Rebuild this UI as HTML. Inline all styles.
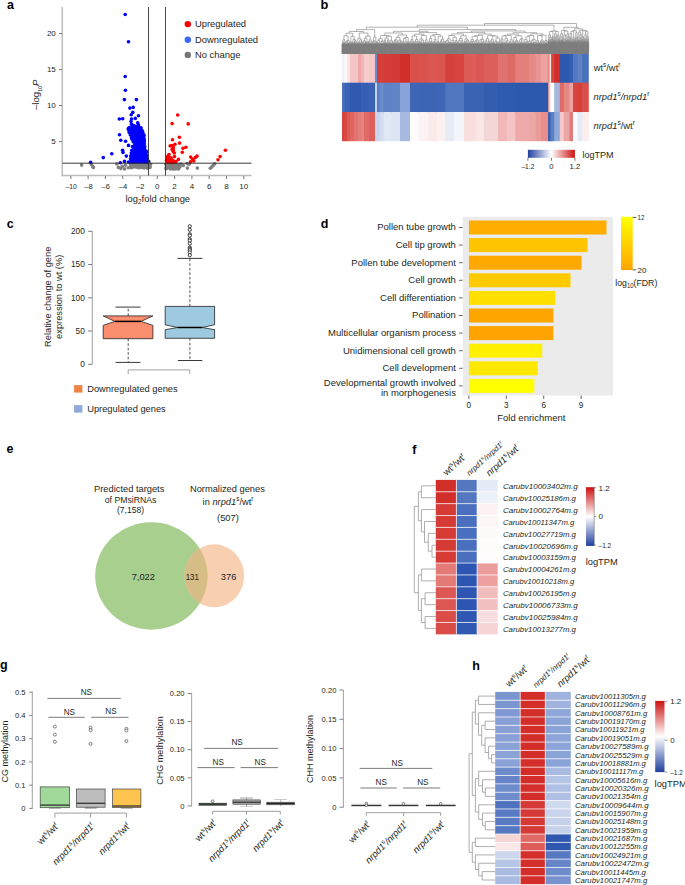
<!DOCTYPE html>
<html><head><meta charset="utf-8"><style>
html,body{margin:0;padding:0;background:#fff;}
body{width:685px;height:885px;overflow:hidden;}
svg{display:block;font-family:"Liberation Sans",sans-serif;}
</style></head><body>
<svg width="685" height="885" viewBox="0 0 685 885" fill="#231f20">
<text x="7" y="9.2" font-size="12.5" font-weight="bold" fill="#000">a</text>
<line x1="62.3" y1="7" x2="62.3" y2="176.3" stroke="#bdbdbd" stroke-width="1.5"/>
<line x1="61.6" y1="175.6" x2="251.5" y2="175.6" stroke="#bdbdbd" stroke-width="1.5"/>
<line x1="59" y1="141.6" x2="62" y2="141.6" stroke="#555" stroke-width="0.8"/>
<text x="55.8" y="144.4" font-size="8.0" text-anchor="end">5</text>
<line x1="59" y1="105.6" x2="62" y2="105.6" stroke="#555" stroke-width="0.8"/>
<text x="55.8" y="108.4" font-size="8.0" text-anchor="end">10</text>
<line x1="59" y1="69.6" x2="62" y2="69.6" stroke="#555" stroke-width="0.8"/>
<text x="55.8" y="72.4" font-size="8.0" text-anchor="end">15</text>
<line x1="59" y1="33.6" x2="62" y2="33.6" stroke="#555" stroke-width="0.8"/>
<text x="55.8" y="36.4" font-size="8.0" text-anchor="end">20</text>
<line x1="70.8" y1="176" x2="70.8" y2="179" stroke="#555" stroke-width="0.8"/>
<text x="71.1" y="189" font-size="8.0" text-anchor="middle" textLength="11.3" lengthAdjust="spacingAndGlyphs">–10</text>
<line x1="88.1" y1="176" x2="88.1" y2="179" stroke="#555" stroke-width="0.8"/>
<text x="88.4" y="189" font-size="8.0" text-anchor="middle" textLength="8.4" lengthAdjust="spacingAndGlyphs">–8</text>
<line x1="105.4" y1="176" x2="105.4" y2="179" stroke="#555" stroke-width="0.8"/>
<text x="105.7" y="189" font-size="8.0" text-anchor="middle" textLength="8.4" lengthAdjust="spacingAndGlyphs">–6</text>
<line x1="122.7" y1="176" x2="122.7" y2="179" stroke="#555" stroke-width="0.8"/>
<text x="123" y="189" font-size="8.0" text-anchor="middle" textLength="8.4" lengthAdjust="spacingAndGlyphs">–4</text>
<line x1="140" y1="176" x2="140" y2="179" stroke="#555" stroke-width="0.8"/>
<text x="140.3" y="189" font-size="8.0" text-anchor="middle" textLength="8.4" lengthAdjust="spacingAndGlyphs">–2</text>
<line x1="157.3" y1="176" x2="157.3" y2="179" stroke="#555" stroke-width="0.8"/>
<text x="157.3" y="189" font-size="8.0" text-anchor="middle">0</text>
<line x1="174.6" y1="176" x2="174.6" y2="179" stroke="#555" stroke-width="0.8"/>
<text x="174.6" y="189" font-size="8.0" text-anchor="middle">2</text>
<line x1="191.9" y1="176" x2="191.9" y2="179" stroke="#555" stroke-width="0.8"/>
<text x="191.9" y="189" font-size="8.0" text-anchor="middle">4</text>
<line x1="209.2" y1="176" x2="209.2" y2="179" stroke="#555" stroke-width="0.8"/>
<text x="209.2" y="189" font-size="8.0" text-anchor="middle">6</text>
<line x1="226.5" y1="176" x2="226.5" y2="179" stroke="#555" stroke-width="0.8"/>
<text x="226.5" y="189" font-size="8.0" text-anchor="middle">8</text>
<line x1="243.8" y1="176" x2="243.8" y2="179" stroke="#555" stroke-width="0.8"/>
<text x="243.8" y="189" font-size="8.0" text-anchor="middle">10</text>
<path d="M130,163.3 L150.5,163.3 L151,165.5 L150.5,168.2 L131,168.4 L129.5,167 Z" fill="#7f7f7f" stroke="none" stroke-width="1"/>
<path d="M165.3,163.3 L180.5,163.3 L181,167.5 L180.2,169.3 L166,169.5 L165,167 Z" fill="#7f7f7f" stroke="none" stroke-width="1"/>
<circle cx="81.6" cy="165.1" r="1.8" fill="#7f7f7f"/>
<circle cx="91.4" cy="164.5" r="1.8" fill="#7f7f7f"/>
<circle cx="92.7" cy="166.4" r="1.8" fill="#7f7f7f"/>
<circle cx="93.4" cy="167.6" r="1.8" fill="#7f7f7f"/>
<circle cx="116.8" cy="164" r="1.8" fill="#7f7f7f"/>
<circle cx="118.4" cy="167.4" r="1.8" fill="#7f7f7f"/>
<circle cx="122.2" cy="166.4" r="1.8" fill="#7f7f7f"/>
<circle cx="125.4" cy="165.2" r="1.8" fill="#7f7f7f"/>
<circle cx="128.2" cy="167.8" r="1.8" fill="#7f7f7f"/>
<circle cx="120.8" cy="168.6" r="1.8" fill="#7f7f7f"/>
<circle cx="124.5" cy="168.9" r="1.8" fill="#7f7f7f"/>
<circle cx="187.1" cy="163.6" r="1.8" fill="#7f7f7f"/>
<circle cx="189.1" cy="164.3" r="1.8" fill="#7f7f7f"/>
<circle cx="187.4" cy="168.1" r="1.8" fill="#7f7f7f"/>
<circle cx="197.3" cy="168.1" r="1.8" fill="#7f7f7f"/>
<circle cx="210.3" cy="168.3" r="1.8" fill="#7f7f7f"/>
<circle cx="211.7" cy="166.9" r="1.8" fill="#7f7f7f"/>
<circle cx="213.2" cy="165.4" r="1.8" fill="#7f7f7f"/>
<circle cx="214.6" cy="163.9" r="1.8" fill="#7f7f7f"/>
<circle cx="183.3" cy="165.5" r="1.8" fill="#7f7f7f"/>
<circle cx="130.5" cy="164.5" r="1.8" fill="#7f7f7f"/>
<circle cx="150.5" cy="164.2" r="1.8" fill="#7f7f7f"/>
<circle cx="150" cy="167.5" r="1.8" fill="#7f7f7f"/>
<circle cx="131.2" cy="167.8" r="1.8" fill="#7f7f7f"/>
<circle cx="166" cy="168.8" r="1.8" fill="#7f7f7f"/>
<circle cx="181" cy="164" r="1.8" fill="#7f7f7f"/>
<circle cx="165.8" cy="164.3" r="1.8" fill="#7f7f7f"/>
<circle cx="135.14" cy="166.21" r="1.8" fill="#7f7f7f"/>
<circle cx="137.71" cy="166.43" r="1.8" fill="#7f7f7f"/>
<circle cx="142.7" cy="164.44" r="1.8" fill="#7f7f7f"/>
<circle cx="130.76" cy="167.3" r="1.8" fill="#7f7f7f"/>
<circle cx="135.56" cy="165.07" r="1.8" fill="#7f7f7f"/>
<circle cx="149.92" cy="165.94" r="1.8" fill="#7f7f7f"/>
<circle cx="146.81" cy="165.96" r="1.8" fill="#7f7f7f"/>
<circle cx="142.96" cy="164.76" r="1.8" fill="#7f7f7f"/>
<circle cx="142.88" cy="167.41" r="1.8" fill="#7f7f7f"/>
<circle cx="140.7" cy="166.94" r="1.8" fill="#7f7f7f"/>
<circle cx="143.59" cy="164.44" r="1.8" fill="#7f7f7f"/>
<circle cx="145.29" cy="166.39" r="1.8" fill="#7f7f7f"/>
<circle cx="136.37" cy="164.31" r="1.8" fill="#7f7f7f"/>
<circle cx="147.38" cy="165.95" r="1.8" fill="#7f7f7f"/>
<circle cx="144.52" cy="167.45" r="1.8" fill="#7f7f7f"/>
<circle cx="144.43" cy="167.61" r="1.8" fill="#7f7f7f"/>
<circle cx="138.2" cy="167.16" r="1.8" fill="#7f7f7f"/>
<circle cx="139.17" cy="167.66" r="1.8" fill="#7f7f7f"/>
<circle cx="147.64" cy="164.56" r="1.8" fill="#7f7f7f"/>
<circle cx="133.15" cy="165" r="1.8" fill="#7f7f7f"/>
<circle cx="149.33" cy="165.81" r="1.8" fill="#7f7f7f"/>
<circle cx="142.72" cy="165.31" r="1.8" fill="#7f7f7f"/>
<circle cx="140.39" cy="165.63" r="1.8" fill="#7f7f7f"/>
<circle cx="137.34" cy="166.36" r="1.8" fill="#7f7f7f"/>
<circle cx="141.89" cy="167.55" r="1.8" fill="#7f7f7f"/>
<circle cx="143.8" cy="167.64" r="1.8" fill="#7f7f7f"/>
<circle cx="147.2" cy="167.87" r="1.8" fill="#7f7f7f"/>
<circle cx="143.59" cy="164.8" r="1.8" fill="#7f7f7f"/>
<circle cx="147.28" cy="167.77" r="1.8" fill="#7f7f7f"/>
<circle cx="148.14" cy="166.31" r="1.8" fill="#7f7f7f"/>
<circle cx="144.42" cy="164.98" r="1.8" fill="#7f7f7f"/>
<circle cx="146.72" cy="166.32" r="1.8" fill="#7f7f7f"/>
<circle cx="136.06" cy="164.43" r="1.8" fill="#7f7f7f"/>
<circle cx="147.15" cy="167.86" r="1.8" fill="#7f7f7f"/>
<circle cx="132.23" cy="167.16" r="1.8" fill="#7f7f7f"/>
<circle cx="138.5" cy="164.76" r="1.8" fill="#7f7f7f"/>
<circle cx="136.23" cy="167.04" r="1.8" fill="#7f7f7f"/>
<circle cx="147.52" cy="164.36" r="1.8" fill="#7f7f7f"/>
<circle cx="142.48" cy="164.37" r="1.8" fill="#7f7f7f"/>
<circle cx="144.51" cy="165.42" r="1.8" fill="#7f7f7f"/>
<circle cx="178.6" cy="169.01" r="1.8" fill="#7f7f7f"/>
<circle cx="173.23" cy="169.09" r="1.8" fill="#7f7f7f"/>
<circle cx="170.43" cy="164.58" r="1.8" fill="#7f7f7f"/>
<circle cx="174.58" cy="164.35" r="1.8" fill="#7f7f7f"/>
<circle cx="168.82" cy="166.2" r="1.8" fill="#7f7f7f"/>
<circle cx="174.73" cy="164.97" r="1.8" fill="#7f7f7f"/>
<circle cx="166.61" cy="168.45" r="1.8" fill="#7f7f7f"/>
<circle cx="170.49" cy="168.9" r="1.8" fill="#7f7f7f"/>
<circle cx="178.82" cy="166.05" r="1.8" fill="#7f7f7f"/>
<circle cx="172.58" cy="166.75" r="1.8" fill="#7f7f7f"/>
<circle cx="175.21" cy="167.12" r="1.8" fill="#7f7f7f"/>
<circle cx="174" cy="167.24" r="1.8" fill="#7f7f7f"/>
<circle cx="179.45" cy="166.68" r="1.8" fill="#7f7f7f"/>
<circle cx="172.17" cy="167.73" r="1.8" fill="#7f7f7f"/>
<circle cx="169.4" cy="165.68" r="1.8" fill="#7f7f7f"/>
<circle cx="179.98" cy="166.75" r="1.8" fill="#7f7f7f"/>
<circle cx="173.84" cy="164.26" r="1.8" fill="#7f7f7f"/>
<circle cx="171.94" cy="167.04" r="1.8" fill="#7f7f7f"/>
<circle cx="166.29" cy="167.22" r="1.8" fill="#7f7f7f"/>
<circle cx="175.04" cy="164.49" r="1.8" fill="#7f7f7f"/>
<circle cx="174.97" cy="166.48" r="1.8" fill="#7f7f7f"/>
<circle cx="175.71" cy="165.93" r="1.8" fill="#7f7f7f"/>
<circle cx="176.11" cy="167.82" r="1.8" fill="#7f7f7f"/>
<circle cx="166.32" cy="164.5" r="1.8" fill="#7f7f7f"/>
<circle cx="175.67" cy="168.92" r="1.8" fill="#7f7f7f"/>
<circle cx="177.7" cy="115" r="1.8" fill="#ff0000"/>
<circle cx="172.1" cy="123.6" r="1.8" fill="#ff0000"/>
<circle cx="188.2" cy="123.9" r="1.8" fill="#ff0000"/>
<circle cx="179.4" cy="137.2" r="1.8" fill="#ff0000"/>
<circle cx="172.5" cy="139.7" r="1.8" fill="#ff0000"/>
<circle cx="179.6" cy="143.1" r="1.8" fill="#ff0000"/>
<circle cx="175" cy="144.3" r="1.8" fill="#ff0000"/>
<circle cx="170.2" cy="145.9" r="1.8" fill="#ff0000"/>
<circle cx="185.9" cy="147.2" r="1.8" fill="#ff0000"/>
<circle cx="183" cy="148.2" r="1.8" fill="#ff0000"/>
<circle cx="173.3" cy="147.4" r="1.8" fill="#ff0000"/>
<circle cx="172.1" cy="149.5" r="1.8" fill="#ff0000"/>
<circle cx="173.1" cy="151.5" r="1.8" fill="#ff0000"/>
<circle cx="174.3" cy="153" r="1.8" fill="#ff0000"/>
<circle cx="182.3" cy="152.2" r="1.8" fill="#ff0000"/>
<circle cx="169" cy="154.6" r="1.8" fill="#ff0000"/>
<circle cx="174.5" cy="156.6" r="1.8" fill="#ff0000"/>
<circle cx="178.4" cy="159.4" r="1.8" fill="#ff0000"/>
<circle cx="190.7" cy="157.1" r="1.8" fill="#ff0000"/>
<circle cx="197" cy="156.1" r="1.8" fill="#ff0000"/>
<circle cx="195.3" cy="157.6" r="1.8" fill="#ff0000"/>
<circle cx="192.7" cy="159.2" r="1.8" fill="#ff0000"/>
<circle cx="193.7" cy="161" r="1.8" fill="#ff0000"/>
<circle cx="190.5" cy="161.7" r="1.8" fill="#ff0000"/>
<circle cx="225.4" cy="150.2" r="1.8" fill="#ff0000"/>
<circle cx="220.1" cy="156.6" r="1.8" fill="#ff0000"/>
<circle cx="218" cy="159.7" r="1.8" fill="#ff0000"/>
<circle cx="167" cy="157" r="1.8" fill="#ff0000"/>
<circle cx="169.5" cy="157.5" r="1.8" fill="#ff0000"/>
<circle cx="167" cy="159.5" r="1.8" fill="#ff0000"/>
<circle cx="169" cy="160" r="1.8" fill="#ff0000"/>
<circle cx="171.5" cy="159.5" r="1.8" fill="#ff0000"/>
<circle cx="173" cy="160.5" r="1.8" fill="#ff0000"/>
<circle cx="167.5" cy="162" r="1.8" fill="#ff0000"/>
<circle cx="170" cy="162.5" r="1.8" fill="#ff0000"/>
<circle cx="172.5" cy="162.5" r="1.8" fill="#ff0000"/>
<circle cx="175" cy="162" r="1.8" fill="#ff0000"/>
<circle cx="166.5" cy="160.5" r="1.8" fill="#ff0000"/>
<circle cx="171" cy="157.8" r="1.8" fill="#ff0000"/>
<circle cx="176" cy="161.5" r="1.8" fill="#ff0000"/>
<circle cx="168.2" cy="155.8" r="1.8" fill="#ff0000"/>
<circle cx="172.3" cy="145.5" r="1.8" fill="#ff0000"/>
<circle cx="173.5" cy="150" r="1.8" fill="#ff0000"/>
<path d="M128,127 L133,124.8 L139,125.5 L141.6,128.5 L144,133 L145.2,137.4 L145,142 L145.2,146 L146.4,150.9 L147.2,154.3 L148.1,158.6 L149.3,162 L149.4,163.4 L129.9,163.4 L129.9,158.6 L130.8,154.3 L131.2,150.9 L132.5,148.4 L133.6,145.8 L132.5,141.6 L130.8,137.4 L129.5,133.1 L128.2,130.6 Z" fill="#0000ff" stroke="none" stroke-width="1"/>
<circle cx="125.2" cy="14.5" r="1.8" fill="#0000ff"/>
<circle cx="128.5" cy="41.7" r="1.8" fill="#0000ff"/>
<circle cx="125.2" cy="76.5" r="1.8" fill="#0000ff"/>
<circle cx="125.4" cy="90.2" r="1.8" fill="#0000ff"/>
<circle cx="124.4" cy="99.6" r="1.8" fill="#0000ff"/>
<circle cx="136.4" cy="99.6" r="1.8" fill="#0000ff"/>
<circle cx="129.9" cy="108.1" r="1.8" fill="#0000ff"/>
<circle cx="133.2" cy="107.4" r="1.8" fill="#0000ff"/>
<circle cx="132.8" cy="112.4" r="1.8" fill="#0000ff"/>
<circle cx="131.2" cy="114.7" r="1.8" fill="#0000ff"/>
<circle cx="138.5" cy="115.8" r="1.8" fill="#0000ff"/>
<circle cx="119.3" cy="119" r="1.8" fill="#0000ff"/>
<circle cx="122.7" cy="118.7" r="1.8" fill="#0000ff"/>
<circle cx="131.5" cy="119.1" r="1.8" fill="#0000ff"/>
<circle cx="135.3" cy="118.4" r="1.8" fill="#0000ff"/>
<circle cx="131" cy="121.6" r="1.8" fill="#0000ff"/>
<circle cx="137.7" cy="122.7" r="1.8" fill="#0000ff"/>
<circle cx="138.5" cy="124.9" r="1.8" fill="#0000ff"/>
<circle cx="131.5" cy="124.2" r="1.8" fill="#0000ff"/>
<circle cx="129.3" cy="127.5" r="1.8" fill="#0000ff"/>
<circle cx="128.2" cy="128.9" r="1.8" fill="#0000ff"/>
<circle cx="119.5" cy="134.8" r="1.8" fill="#0000ff"/>
<circle cx="120.8" cy="140.3" r="1.8" fill="#0000ff"/>
<circle cx="125.6" cy="141.3" r="1.8" fill="#0000ff"/>
<circle cx="128.5" cy="145.4" r="1.8" fill="#0000ff"/>
<circle cx="122.6" cy="150.2" r="1.8" fill="#0000ff"/>
<circle cx="123" cy="152.4" r="1.8" fill="#0000ff"/>
<circle cx="111.8" cy="153.8" r="1.8" fill="#0000ff"/>
<circle cx="103.3" cy="157.6" r="1.8" fill="#0000ff"/>
<circle cx="126.3" cy="156.1" r="1.8" fill="#0000ff"/>
<circle cx="124.5" cy="161.4" r="1.8" fill="#0000ff"/>
<circle cx="120.3" cy="162.8" r="1.8" fill="#0000ff"/>
<circle cx="128.5" cy="162" r="1.8" fill="#0000ff"/>
<circle cx="90.6" cy="162.3" r="1.8" fill="#0000ff"/>
<circle cx="143.3" cy="136.8" r="1.8" fill="#0000ff"/>
<circle cx="141" cy="127.8" r="1.8" fill="#0000ff"/>
<circle cx="133.5" cy="125.5" r="1.8" fill="#0000ff"/>
<circle cx="130.2" cy="128.8" r="1.8" fill="#0000ff"/>
<circle cx="146.8" cy="152" r="1.8" fill="#0000ff"/>
<circle cx="132.5" cy="146.5" r="1.8" fill="#0000ff"/>
<circle cx="129.39" cy="127.85" r="1.8" fill="#0000ff"/>
<circle cx="131.99" cy="126.92" r="1.8" fill="#0000ff"/>
<circle cx="134.4" cy="126.42" r="1.8" fill="#0000ff"/>
<circle cx="136.14" cy="126.22" r="1.8" fill="#0000ff"/>
<circle cx="140.06" cy="128.15" r="1.8" fill="#0000ff"/>
<circle cx="141.94" cy="130.2" r="1.8" fill="#0000ff"/>
<circle cx="142.76" cy="132.06" r="1.8" fill="#0000ff"/>
<circle cx="143.56" cy="134.61" r="1.8" fill="#0000ff"/>
<circle cx="144.11" cy="135.87" r="1.8" fill="#0000ff"/>
<circle cx="144.05" cy="138.73" r="1.8" fill="#0000ff"/>
<circle cx="144.38" cy="140.92" r="1.8" fill="#0000ff"/>
<circle cx="144.34" cy="143.66" r="1.8" fill="#0000ff"/>
<circle cx="144.7" cy="146.53" r="1.8" fill="#0000ff"/>
<circle cx="144.5" cy="147.76" r="1.8" fill="#0000ff"/>
<circle cx="145.85" cy="150.74" r="1.8" fill="#0000ff"/>
<circle cx="146.72" cy="155.27" r="1.8" fill="#0000ff"/>
<circle cx="147.38" cy="157.81" r="1.8" fill="#0000ff"/>
<circle cx="148.64" cy="161.3" r="1.8" fill="#0000ff"/>
<circle cx="130.5" cy="161.73" r="1.8" fill="#0000ff"/>
<circle cx="130.6" cy="158.77" r="1.8" fill="#0000ff"/>
<circle cx="130.77" cy="155.91" r="1.8" fill="#0000ff"/>
<circle cx="131.33" cy="153.07" r="1.8" fill="#0000ff"/>
<circle cx="131.77" cy="150.25" r="1.8" fill="#0000ff"/>
<circle cx="133.64" cy="147.3" r="1.8" fill="#0000ff"/>
<circle cx="134.8" cy="145.35" r="1.8" fill="#0000ff"/>
<circle cx="133.16" cy="141.68" r="1.8" fill="#0000ff"/>
<circle cx="132.12" cy="139.34" r="1.8" fill="#0000ff"/>
<circle cx="131.46" cy="137.83" r="1.8" fill="#0000ff"/>
<circle cx="130.34" cy="135" r="1.8" fill="#0000ff"/>
<circle cx="129.23" cy="132.39" r="1.8" fill="#0000ff"/>
<circle cx="128.91" cy="130.46" r="1.8" fill="#0000ff"/>
<line x1="62.4" y1="163.2" x2="251.5" y2="163.2" stroke="#222" stroke-width="0.9"/>
<line x1="148.5" y1="7" x2="148.5" y2="175.6" stroke="#333" stroke-width="0.9"/>
<line x1="165.5" y1="7" x2="165.5" y2="175.6" stroke="#333" stroke-width="0.9"/>
<circle cx="187.8" cy="24.1" r="3.2" fill="#ff0000"/>
<text x="195" y="27.4" font-size="9.4">Upregulated</text>
<circle cx="187.8" cy="39.7" r="3.2" fill="#3a66ff"/>
<text x="195" y="43" font-size="9.4">Downregulated</text>
<circle cx="187.8" cy="54.9" r="3.2" fill="#777"/>
<text x="195" y="58.2" font-size="9.4">No change</text>
<text x="39.3" y="94.8" font-size="9.6" text-anchor="middle" transform="rotate(-90 39.3 94.8)"><tspan>–log</tspan><tspan dy="2.4" font-size="5.28">10</tspan><tspan dy="-2.4" font-style="italic">P</tspan></text>
<text x="157.8" y="201.5" font-size="9.4" text-anchor="middle"><tspan>log</tspan><tspan dy="2.35" font-size="6.39">2</tspan><tspan dy="-2.35">fold change</tspan></text>
<text x="320.6" y="9.2" font-size="12.8" font-weight="bold" fill="#000">b</text>
<rect x="342" y="53.8" width="3.3" height="29.5" fill="#eef2fa"/>
<rect x="342" y="82.7" width="3.3" height="29.9" fill="#4a6fbb"/>
<rect x="342" y="112" width="3.3" height="29.2" fill="#d8443f"/>
<rect x="344.5" y="53.8" width="3.3" height="29.5" fill="#fbf9fa"/>
<rect x="344.5" y="82.7" width="3.3" height="29.9" fill="#3b63b5"/>
<rect x="344.5" y="112" width="3.3" height="29.2" fill="#d94a45"/>
<rect x="347" y="53.8" width="3.8" height="29.5" fill="#f9e3e3"/>
<rect x="347" y="82.7" width="3.8" height="29.9" fill="#3a62b4"/>
<rect x="347" y="112" width="3.8" height="29.2" fill="#dd5a55"/>
<rect x="350" y="53.8" width="4.8" height="29.5" fill="#f4c3c3"/>
<rect x="350" y="82.7" width="4.8" height="29.9" fill="#2f5aae"/>
<rect x="350" y="112" width="4.8" height="29.2" fill="#e06661"/>
<rect x="354" y="53.8" width="4.8" height="29.5" fill="#f3c6c6"/>
<rect x="354" y="82.7" width="4.8" height="29.9" fill="#2f5aae"/>
<rect x="354" y="112" width="4.8" height="29.2" fill="#e3736e"/>
<rect x="358" y="53.8" width="3.8" height="29.5" fill="#eea7a7"/>
<rect x="358" y="82.7" width="3.8" height="29.9" fill="#2f59ae"/>
<rect x="358" y="112" width="3.8" height="29.2" fill="#e57d78"/>
<rect x="361" y="53.8" width="3.8" height="29.5" fill="#f1b6b6"/>
<rect x="361" y="82.7" width="3.8" height="29.9" fill="#3560b2"/>
<rect x="361" y="112" width="3.8" height="29.2" fill="#e68580"/>
<rect x="364" y="53.8" width="5.8" height="29.5" fill="#f6cdcd"/>
<rect x="364" y="82.7" width="5.8" height="29.9" fill="#3560b2"/>
<rect x="364" y="112" width="5.8" height="29.2" fill="#e06a66"/>
<rect x="369" y="53.8" width="6.8" height="29.5" fill="#f4c8c8"/>
<rect x="369" y="82.7" width="6.8" height="29.9" fill="#3a62b4"/>
<rect x="369" y="112" width="6.8" height="29.2" fill="#dd5e5a"/>
<rect x="375" y="53.8" width="2.8" height="29.5" fill="#6a8cca"/>
<rect x="375" y="82.7" width="2.8" height="29.9" fill="#c5d1ec"/>
<rect x="375" y="112" width="2.8" height="29.2" fill="#c9d4ed"/>
<rect x="377" y="53.8" width="3.5" height="29.5" fill="#d63c37"/>
<rect x="377" y="82.7" width="3.5" height="29.9" fill="#5c7fc4"/>
<rect x="377" y="112" width="3.5" height="29.2" fill="#c8d3ec"/>
<rect x="379.7" y="53.8" width="4.7" height="29.5" fill="#d5403b"/>
<rect x="379.7" y="82.7" width="4.7" height="29.9" fill="#6a8bca"/>
<rect x="379.7" y="112" width="4.7" height="29.2" fill="#d4ddf0"/>
<rect x="383.6" y="53.8" width="8.7" height="29.5" fill="#d63c37"/>
<rect x="383.6" y="82.7" width="8.7" height="29.9" fill="#5f81c5"/>
<rect x="383.6" y="112" width="8.7" height="29.2" fill="#e0e7f5"/>
<rect x="391.5" y="53.8" width="9.3" height="29.5" fill="#d43a35"/>
<rect x="391.5" y="82.7" width="9.3" height="29.9" fill="#6184c6"/>
<rect x="391.5" y="112" width="9.3" height="29.2" fill="#dde4f3"/>
<rect x="400" y="53.8" width="10.8" height="29.5" fill="#d32f2a"/>
<rect x="400" y="82.7" width="10.8" height="29.9" fill="#8aa3d7"/>
<rect x="400" y="112" width="10.8" height="29.2" fill="#a6b9df"/>
<rect x="410" y="53.8" width="9.1" height="29.5" fill="#d9504b"/>
<rect x="410" y="82.7" width="9.1" height="29.9" fill="#3f66b6"/>
<rect x="410" y="112" width="9.1" height="29.2" fill="#fdfcfc"/>
<rect x="418.3" y="53.8" width="11" height="29.5" fill="#da524e"/>
<rect x="418.3" y="82.7" width="11" height="29.9" fill="#3d65b5"/>
<rect x="418.3" y="112" width="11" height="29.2" fill="#fcf4f4"/>
<rect x="428.5" y="53.8" width="8.9" height="29.5" fill="#db5753"/>
<rect x="428.5" y="82.7" width="8.9" height="29.9" fill="#3d65b5"/>
<rect x="428.5" y="112" width="8.9" height="29.2" fill="#fbeaea"/>
<rect x="436.6" y="53.8" width="9.5" height="29.5" fill="#da5450"/>
<rect x="436.6" y="82.7" width="9.5" height="29.9" fill="#3f66b6"/>
<rect x="436.6" y="112" width="9.5" height="29.2" fill="#fcf1f1"/>
<rect x="445.3" y="53.8" width="9.4" height="29.5" fill="#d6403b"/>
<rect x="445.3" y="82.7" width="9.4" height="29.9" fill="#5077c0"/>
<rect x="445.3" y="112" width="9.4" height="29.2" fill="#e6ebf6"/>
<rect x="453.9" y="53.8" width="10.9" height="29.5" fill="#d74440"/>
<rect x="453.9" y="82.7" width="10.9" height="29.9" fill="#4f76bf"/>
<rect x="453.9" y="112" width="10.9" height="29.2" fill="#f3f5fb"/>
<rect x="464" y="53.8" width="12.9" height="29.5" fill="#dc5c58"/>
<rect x="464" y="82.7" width="12.9" height="29.9" fill="#3a63b4"/>
<rect x="464" y="112" width="12.9" height="29.2" fill="#f9dede"/>
<rect x="476.1" y="53.8" width="8.6" height="29.5" fill="#da5753"/>
<rect x="476.1" y="82.7" width="8.6" height="29.9" fill="#3b63b4"/>
<rect x="476.1" y="112" width="8.6" height="29.2" fill="#f9e6e6"/>
<rect x="483.9" y="53.8" width="14.8" height="29.5" fill="#dc5f5b"/>
<rect x="483.9" y="82.7" width="14.8" height="29.9" fill="#325db0"/>
<rect x="483.9" y="112" width="14.8" height="29.2" fill="#f5d6d6"/>
<rect x="497.9" y="53.8" width="10" height="29.5" fill="#e07370"/>
<rect x="497.9" y="82.7" width="10" height="29.9" fill="#2e5aaf"/>
<rect x="497.9" y="112" width="10" height="29.2" fill="#f0b8b8"/>
<rect x="507.1" y="53.8" width="9" height="29.5" fill="#df6b67"/>
<rect x="507.1" y="82.7" width="9" height="29.9" fill="#2f5baf"/>
<rect x="507.1" y="112" width="9" height="29.2" fill="#f3c5c5"/>
<rect x="515.3" y="53.8" width="14.5" height="29.5" fill="#e57f7b"/>
<rect x="515.3" y="82.7" width="14.5" height="29.9" fill="#2c59ae"/>
<rect x="515.3" y="112" width="14.5" height="29.2" fill="#eeaaaa"/>
<rect x="529" y="53.8" width="7.5" height="29.5" fill="#e68a87"/>
<rect x="529" y="82.7" width="7.5" height="29.9" fill="#2c59ae"/>
<rect x="529" y="112" width="7.5" height="29.2" fill="#eda6a6"/>
<rect x="535.7" y="53.8" width="6.1" height="29.5" fill="#e89492"/>
<rect x="535.7" y="82.7" width="6.1" height="29.9" fill="#2c59ae"/>
<rect x="535.7" y="112" width="6.1" height="29.2" fill="#eb9c9a"/>
<rect x="541" y="53.8" width="7.9" height="29.5" fill="#eba3a0"/>
<rect x="541" y="82.7" width="7.9" height="29.9" fill="#2c59ae"/>
<rect x="541" y="112" width="7.9" height="29.2" fill="#e88e8b"/>
<rect x="548.1" y="53.8" width="2.3" height="29.5" fill="#e3807c"/>
<rect x="548.1" y="82.7" width="2.3" height="29.9" fill="#e8a0a0"/>
<rect x="548.1" y="112" width="2.3" height="29.2" fill="#2e5aaf"/>
<rect x="549.6" y="53.8" width="2.3" height="29.5" fill="#fbe9e9"/>
<rect x="549.6" y="82.7" width="2.3" height="29.9" fill="#fdf5f5"/>
<rect x="549.6" y="112" width="2.3" height="29.2" fill="#4b70bb"/>
<rect x="551.1" y="53.8" width="3.9" height="29.5" fill="#d8453f"/>
<rect x="551.1" y="82.7" width="3.9" height="29.9" fill="#ffffff"/>
<rect x="551.1" y="112" width="3.9" height="29.2" fill="#5d7fc4"/>
<rect x="554.2" y="53.8" width="6.4" height="29.5" fill="#d32f2a"/>
<rect x="554.2" y="82.7" width="6.4" height="29.9" fill="#a5b8df"/>
<rect x="554.2" y="112" width="6.4" height="29.2" fill="#8ea8d8"/>
<rect x="559.8" y="53.8" width="4.8" height="29.5" fill="#2c59ae"/>
<rect x="559.8" y="82.7" width="4.8" height="29.9" fill="#e06a66"/>
<rect x="559.8" y="112" width="4.8" height="29.2" fill="#f5c9c9"/>
<rect x="563.8" y="53.8" width="6.4" height="29.5" fill="#2c59ae"/>
<rect x="563.8" y="82.7" width="6.4" height="29.9" fill="#e58785"/>
<rect x="563.8" y="112" width="6.4" height="29.2" fill="#eda6a6"/>
<rect x="569.4" y="53.8" width="4.4" height="29.5" fill="#3360b2"/>
<rect x="569.4" y="82.7" width="4.4" height="29.9" fill="#eba3a0"/>
<rect x="569.4" y="112" width="4.4" height="29.2" fill="#e17d79"/>
<rect x="573" y="53.8" width="5.4" height="29.5" fill="#5479c0"/>
<rect x="573" y="82.7" width="5.4" height="29.9" fill="#d8453f"/>
<rect x="573" y="112" width="5.4" height="29.2" fill="#f8f9fd"/>
<rect x="577.6" y="53.8" width="5.3" height="29.5" fill="#5f82c5"/>
<rect x="577.6" y="82.7" width="5.3" height="29.9" fill="#d6403b"/>
<rect x="577.6" y="112" width="5.3" height="29.2" fill="#e5ebf6"/>
<rect x="582.1" y="53.8" width="6.7" height="29.5" fill="#4a70bb"/>
<rect x="582.1" y="82.7" width="6.7" height="29.9" fill="#da4f4a"/>
<rect x="582.1" y="112" width="6.7" height="29.2" fill="#fbeeee"/>
<text x="593.7" y="70.5" font-size="9.4"><tspan>wt</tspan><tspan dy="-3.76" font-size="6.39">s</tspan><tspan dy="3.76">/wt</tspan><tspan dy="-3.76" font-size="6.39">r</tspan></text>
<text x="593.5" y="100" font-size="9.4"><tspan font-style="italic">nrpd1</tspan><tspan dy="-3.76" font-size="6.39">s</tspan><tspan dy="3.76" font-style="italic">/</tspan><tspan font-style="italic">nrpd1</tspan><tspan dy="-3.76" font-size="6.39">r</tspan></text>
<text x="593.5" y="129" font-size="9.4"><tspan font-style="italic">nrpd1</tspan><tspan dy="-3.76" font-size="6.39">s</tspan><tspan dy="3.76">/wt</tspan><tspan dy="-3.76" font-size="6.39">r</tspan></text>
<defs><linearGradient id="gb" x1="0" x2="1" y1="0" y2="0"><stop offset="0" stop-color="#1f3f9e"/><stop offset="0.5" stop-color="#ffffff"/><stop offset="1" stop-color="#cc1111"/></linearGradient></defs>
<rect x="527.9" y="149.8" width="47" height="8" fill="url(#gb)"/>
<line x1="527.9" y1="157.8" x2="527.9" y2="160.7" stroke="#333" stroke-width="0.7"/>
<text x="527.9" y="169.3" font-size="7.6" text-anchor="middle" textLength="13" lengthAdjust="spacingAndGlyphs">–1.2</text>
<line x1="551.4" y1="157.8" x2="551.4" y2="160.7" stroke="#333" stroke-width="0.7"/>
<text x="551.4" y="169.3" font-size="7.6" text-anchor="middle">0</text>
<line x1="574.9" y1="157.8" x2="574.9" y2="160.7" stroke="#333" stroke-width="0.7"/>
<text x="574.9" y="169.3" font-size="7.6" text-anchor="middle">1.2</text>
<text x="582.6" y="158.4" font-size="9.0">logTPM</text>
<rect x="342" y="44.4" width="246.8" height="9.4" fill="#7f7f7f"/>
<path d="M342.08,53.8V44.74H342.23V53.8M342.15,44.74V44.24H342.36V53.8M342.47,53.8V44.65H342.6V53.8M342.25,44.24V43.74H342.53V44.65M342.75,53.8V44.72H342.88V53.8M342.82,44.72V44.22H343V53.8M343.12,53.8V44.56H343.27V53.8M342.91,44.22V43.55H343.19V44.56M343.63,53.8V44.4H343.78V53.8M343.71,44.4V43.9H343.93V53.8M343.44,53.8V43.4H343.82V43.9M343.05,43.55V42.7H343.63V43.4M342.39,43.74V41.67H343.34V42.7M344.22,53.8V44.84H344.35V53.8M344.07,53.8V44.34H344.28V44.84M344.49,53.8V44.47H344.64V53.8M344.8,53.8V44.7H344.96V53.8M344.88,44.7V44.2H345.09V53.8M344.57,44.47V43.7H344.99V44.2M344.18,44.34V43.15H344.78V43.7M345.23,53.8V44.63H345.36V53.8M345.48,53.8V44.56H345.61V53.8M345.74,53.8V44.56H345.87V53.8M345.55,44.56V44.06H345.81V44.56M345.29,44.63V43.56H345.68V44.06M344.48,43.15V42.05H345.48V43.56M342.87,41.67V39.75H344.98V42.05M346.06,53.8V44.2H346.23V53.8M346.57,53.8V44.62H346.74V53.8M346.38,53.8V44.12H346.66V44.62M346.15,44.2V43.62H346.52V44.12M346.87,53.8V44.55H347V53.8M347.2,53.8V44.14H347.42V53.8M346.93,44.55V43.64H347.31V44.14M347.99,53.8V44.96H348.12V53.8M347.81,53.8V44.46H348.05V44.96M347.61,53.8V43.96H347.93V44.46M348.28,53.8V44.23H348.45V53.8M347.77,43.96V43.46H348.36V44.23M347.12,43.64V42.49H348.07V43.46M346.33,43.62V41.08H347.59V42.49M348.59,53.8V44.25H348.76V53.8M348.94,53.8V44.34H349.08V53.8M348.68,44.25V43.53H349.01V44.34M349.24,53.8V44.15H349.41V53.8M349.59,53.8V44.21H349.78V53.8M349.33,44.15V43.4H349.68V44.21M348.84,43.53V42.24H349.5V43.4M346.96,41.08V40.45H349.17V42.24M343.92,39.75V35.89H348.07V40.45M350.14,53.8V44.59H350.28V53.8M349.96,53.8V44.09H350.21V44.59M350.4,53.8V44.29H350.58V53.8M350.08,44.09V43.59H350.49V44.29M350.74,53.8V44.43H350.89V53.8M351.03,53.8V44.46H351.19V53.8M351.11,44.46V43.96H351.38V53.8M350.82,44.43V43.14H351.25V43.96M351.79,53.8V44.52H351.95V53.8M351.59,53.8V43.73H351.87V44.52M351.03,43.14V42.35H351.73V43.73M350.29,43.59V41.85H351.38V42.35M352.1,53.8V44.52H352.25V53.8M352.41,53.8V44.46H352.57V53.8M352.18,44.52V43.69H352.49V44.46M352.72,53.8V44.35H352.85V53.8M352.33,43.69V43.19H352.79V44.35M353.45,53.8V44.47H353.58V53.8M353.26,53.8V43.97H353.51V44.47M353.03,53.8V43.3H353.39V43.97M352.56,43.19V42.18H353.21V43.3M353.91,53.8V44.31H354.07V53.8M353.74,53.8V43.81H353.99V44.31M354.22,53.8V44.42H354.35V53.8M353.87,43.81V43.12H354.28V44.42M354.74,53.8V44.17H354.92V53.8M354.54,53.8V43.67H354.83V44.17M355.09,53.8V44.41H355.23V53.8M355.53,53.8V44.39H355.66V53.8M355.38,53.8V43.89H355.59V44.39M355.16,44.41V43.24H355.49V43.89M354.68,43.67V42.4H355.32V43.24M354.07,43.12V41.51H355V42.4M355.8,53.8V44.64H355.93V53.8M355.87,44.64V43.97H356.11V53.8M356.31,53.8V44.49H356.43V53.8M356.78,53.8V44.45H356.92V53.8M356.6,53.8V43.95H356.85V44.45M356.37,44.49V43.45H356.72V43.95M355.99,43.97V42.71H356.55V43.45M354.54,41.51V40.87H356.27V42.71M352.88,42.18V39.58H355.4V40.87M350.83,41.85V36.44H354.14V39.58M346,35.89V33.2H352.49V36.44M357.07,53.8V44.32H357.22V53.8M357.34,53.8V44.53H357.46V53.8M357.64,53.8V44.42H357.8V53.8M357.4,44.53V43.92H357.72V44.42M357.15,44.32V43.42H357.56V43.92M357.96,53.8V44.22H358.11V53.8M358.24,53.8V44.25H358.44V53.8M358.04,44.22V43.61H358.34V44.25M358.77,53.8V44.63H358.91V53.8M358.64,53.8V44.13H358.84V44.63M358.19,43.61V43.11H358.74V44.13M357.35,43.42V42.13H358.46V43.11M359.07,53.8V44.5H359.24V53.8M359.53,53.8V44.91H359.66V53.8M359.38,53.8V44.41H359.6V44.91M359.49,44.41V43.91H359.83V53.8M359.16,44.5V43.41H359.66V43.91M360.44,53.8V44.62H360.56V53.8M360.27,53.8V44.12H360.5V44.62M360.05,53.8V43.62H360.39V44.12M359.41,43.41V41.96H360.22V43.62M360.74,53.8V44.53H360.9V53.8M360.82,44.53V44.03H361.01V53.8M361.18,53.8V44.47H361.35V53.8M361.27,44.47V43.97H361.5V53.8M360.92,44.03V42.91H361.39V43.97M362.07,53.8V44.7H362.21V53.8M361.89,53.8V44.2H362.14V44.7M361.7,53.8V43.7H362.02V44.2M361.15,42.91V41.85H361.86V43.7M359.81,41.96V39.78H361.5V41.85M357.91,42.13V38.25H360.66V39.78M362.64,53.8V44.24H362.87V53.8M362.4,53.8V43.74H362.76V44.24M363.3,53.8V44.56H363.48V53.8M363.1,53.8V44.06H363.39V44.56M363.66,53.8V44.25H363.85V53.8M363.24,44.06V43.49H363.76V44.25M364.24,53.8V44.38H364.41V53.8M364.06,53.8V43.73H364.32V44.38M363.5,43.49V42.35H364.19V43.73M362.58,43.74V41.85H363.84V42.35M364.62,53.8V44.56H364.77V53.8M364.69,44.56V44.06H364.9V53.8M364.8,44.06V43.42H365.09V53.8M365.29,53.8V44.34H365.44V53.8M364.94,43.42V42.92H365.36V44.34M365.76,53.8V44.64H365.92V53.8M365.6,53.8V44.14H365.84V44.64M365.15,42.92V42.15H365.72V44.14M363.21,41.85V40.87H365.44V42.15M366.08,53.8V44.71H366.22V53.8M366.15,44.71V44.21H366.4V53.8M366.57,53.8V44.56H366.71V53.8M366.85,53.8V44.27H367.07V53.8M366.64,44.56V43.49H366.96V44.27M366.27,44.21V42.49H366.8V43.49M367.43,53.8V44.43H367.6V53.8M367.27,53.8V43.93H367.52V44.43M366.54,42.49V41.92H367.4V43.93M364.32,40.87V38.3H366.97V41.92M367.78,53.8V44.7H367.92V53.8M367.85,44.7V44.2H368.04V53.8M367.94,44.2V43.7H368.23V53.8M368.45,53.8V44.24H368.62V53.8M368.82,53.8V44.35H369.01V53.8M369.18,53.8V44.51H369.34V53.8M368.91,44.35V43.84H369.26V44.51M368.54,44.24V42.74H369.09V43.84M368.08,43.7V42.11H368.81V42.74M369.47,53.8V44.21H369.63V53.8M369.81,53.8V44.08H369.99V53.8M369.55,44.21V43.4H369.9V44.08M370.15,53.8V44.33H370.32V53.8M369.72,43.4V42.9H370.24V44.33M368.45,42.11V41.61H369.98V42.9M370.52,53.8V44.59H370.66V53.8M370.78,53.8V44.62H370.92V53.8M370.59,44.59V44.09H370.85V44.62M371.02,53.8V44.33H371.16V53.8M370.72,44.09V43.59H371.09V44.33M371.33,53.8V44.49H371.48V53.8M371.63,53.8V44.63H371.75V53.8M371.69,44.63V44.13H371.9V53.8M371.4,44.49V43.35H371.8V44.13M370.9,43.59V42.28H371.6V43.35M369.21,41.61V39.88H371.25V42.28M365.64,38.3V36.14H370.23V39.88M359.28,38.25V33H367.94V36.14M349.24,33.2V31.5H363.61V33M372.45,53.8V44.77H372.58V53.8M372.3,53.8V44.27H372.52V44.77M372.11,53.8V43.77H372.41V44.27M372.74,53.8V44.37H372.92V53.8M372.26,43.77V43.08H372.83V44.37M373.29,53.8V44.63H373.45V53.8M373.1,53.8V44.13H373.37V44.63M373.61,53.8V44.54H373.74V53.8M373.23,44.13V43.45H373.67V44.54M372.54,43.08V41.63H373.45V43.45M373.89,53.8V43.94H374.1V53.8M374.52,53.8V44.24H374.73V53.8M374.31,53.8V43.74H374.63V44.24M373.99,43.94V42.8H374.47V43.74M373,41.63V40.43H374.23V42.8M374.94,53.8V44.16H375.13V53.8M375.32,53.8V44.66H375.48V53.8M375.4,44.66V44.16H375.61V53.8M375.03,44.16V43.66H375.5V44.16M375.74,53.8V44.53H375.87V53.8M376.05,53.8V44.34H376.22V53.8M376.13,44.34V43.64H376.42V53.8M375.8,44.53V43.14H376.27V43.64M376.64,53.8V44.12H376.88V53.8M376.04,43.14V42.42H376.76V44.12M375.27,43.66V41.04H376.4V42.42M373.61,40.43V37H375.83V41.04M377.07,53.8V44.66H377.22V53.8M377.15,44.66V44.16H377.41V53.8M377.6,53.8V44.28H377.8V53.8M377.28,44.16V42.89H377.7V44.28M378.16,53.8V44.5H378.3V53.8M378.01,53.8V43.98H378.23V44.5M378.62,53.8V44.28H378.79V53.8M378.46,53.8V43.78H378.71V44.28M378.12,43.98V43.28H378.59V43.78M377.49,42.89V42.36H378.35V43.28M378.96,53.8V44.64H379.09V53.8M379.22,53.8V44.53H379.37V53.8M379.02,44.64V44.03H379.29V44.53M379.51,53.8V44.65H379.65V53.8M379.58,44.65V44.15H379.84V53.8M380.06,53.8V44.3H380.24V53.8M379.71,44.15V43.65H380.15V44.3M379.16,44.03V42.45H379.93V43.65M377.92,42.36V40.15H379.54V42.45M380.36,53.8V44.67H380.5V53.8M380.43,44.67V44.17H380.7V53.8M380.88,53.8V44.25H381.03V53.8M380.56,44.17V43.67H380.96V44.25M381.2,53.8V44.41H381.37V53.8M380.76,43.67V43.17H381.28V44.41M381.55,53.8V44.32H381.69V53.8M381.79,53.8V44.6H381.92V53.8M382.08,53.8V44.57H382.21V53.8M381.86,44.6V44.07H382.14V44.57M381.62,44.32V43.57H382V44.07M382.31,53.8V44.23H382.49V53.8M381.81,43.57V43.07H382.4V44.23M381.02,43.17V41.42H382.1V43.07M382.68,53.8V44.48H382.81V53.8M382.96,53.8V44.4H383.15V53.8M382.74,44.48V43.9H383.05V44.4M383.35,53.8V44.27H383.52V53.8M383.43,44.27V43.77H383.68V53.8M382.9,43.9V43.13H383.56V43.77M381.56,41.42V40.86H383.23V43.13M378.73,40.15V38.71H382.4V40.86M384.1,53.8V44.5H384.26V53.8M383.9,53.8V43.8H384.18V44.5M384.44,53.8V44.39H384.62V53.8M384.04,43.8V43.05H384.53V44.39M384.83,53.8V44.09H385.01V53.8M385.13,53.8V44.42H385.27V53.8M384.92,44.09V43.45H385.2V44.42M385.44,53.8V44.28H385.64V53.8M385.97,53.8V44.6H386.11V53.8M385.82,53.8V44.1H386.04V44.6M386.27,53.8V44.57H386.44V53.8M386.35,44.57V44.07H386.59V53.8M385.93,44.1V43.12H386.47V44.07M385.54,44.28V42.62H386.2V43.12M385.06,43.45V41.98H385.87V42.62M384.29,43.05V40.31H385.46V41.98M386.76,53.8V44.71H386.91V53.8M386.84,44.71V44.21H387.06V53.8M387.24,53.8V44.43H387.4V53.8M386.95,44.21V43.71H387.32V44.43M387.56,53.8V44.72H387.69V53.8M387.62,44.72V44.22H387.82V53.8M387.14,43.71V42.67H387.72V44.22M387.96,53.8V44.57H388.1V53.8M388.27,53.8V44.59H388.41V53.8M388.03,44.57V43.85H388.34V44.59M388.55,53.8V44.49H388.67V53.8M388.18,43.85V43.29H388.61V44.49M389.01,53.8V44.25H389.17V53.8M388.81,53.8V43.67H389.09V44.25M389.31,53.8V44.22H389.5V53.8M389.68,53.8V44.42H389.82V53.8M389.41,44.22V43.68H389.75V44.42M388.95,43.67V42.88H389.58V43.68M388.4,43.29V41.34H389.26V42.88M387.43,42.67V39.99H388.83V41.34M384.87,40.31V38.14H388.13V39.99M390.12,53.8V44.76H390.26V53.8M389.97,53.8V44.26H390.19V44.76M390.44,53.8V44.26H390.6V53.8M390.08,44.26V43.76H390.52V44.26M390.72,53.8V44.51H390.86V53.8M391.16,53.8V44.58H391.33V53.8M391.02,53.8V44.08H391.24V44.58M390.79,44.51V43.27H391.13V44.08M390.3,43.76V42.63H390.96V43.27M391.5,53.8V44.67H391.65V53.8M391.58,44.67V44.17H391.83V53.8M391.71,44.17V43.62H392.05V53.8M392.21,53.8V44.29H392.39V53.8M392.81,53.8V44.59H392.95V53.8M392.61,53.8V44.09H392.88V44.59M392.3,44.29V43.59H392.74V44.09M391.88,43.62V42.04H392.52V43.59M390.63,42.63V40.23H392.2V42.04M386.5,38.14V36.31H391.42V40.23M380.56,38.71V35.5H388.96V36.31M393.05,53.8V44.62H393.17V53.8M393.11,44.62V44.06H393.37V53.8M393.7,53.8V44.61H393.86V53.8M393.56,53.8V44.11H393.78V44.61M394.06,53.8V44.49H394.19V53.8M393.67,44.11V43.35H394.12V44.49M393.24,44.06V42.85H393.9V43.35M394.35,53.8V44.27H394.51V53.8M394.63,53.8V44.77H394.76V53.8M394.69,44.77V44.27H394.89V53.8M394.43,44.27V43.77H394.79V44.27M393.57,42.85V41.9H394.61V43.77M395.04,53.8V44.59H395.17V53.8M395.28,53.8V44.59H395.43V53.8M395.1,44.59V44.09H395.35V44.59M395.58,53.8V44.54H395.74V53.8M395.66,44.54V44.04H395.91V53.8M395.23,44.09V43.4H395.79V44.04M394.09,41.9V40.28H395.51V43.4M396.04,53.8V44.51H396.19V53.8M396.11,44.51V43.98H396.36V53.8M396.52,53.8V44.36H396.69V53.8M396.24,43.98V43.19H396.6V44.36M397.07,53.8V44.33H397.25V53.8M396.88,53.8V43.83H397.16V44.33M396.42,43.19V42.16H397.02V43.83M397.46,53.8V44H397.67V53.8M397.89,53.8V44.21H398.08V53.8M397.56,44V43.32H397.98V44.21M396.72,42.16V41.45H397.77V43.32M394.8,40.28V39.78H397.25V41.45M398.52,53.8V44.29H398.73V53.8M398.31,53.8V43.79H398.63V44.29M398.91,53.8V44.36H399.08V53.8M399.21,53.8V44.5H399.35V53.8M398.99,44.36V43.62H399.28V44.5M398.47,43.79V42.86H399.14V43.62M399.74,53.8V44.44H399.88V53.8M399.99,53.8V44.44H400.13V53.8M399.81,44.44V43.94H400.06V44.44M399.56,53.8V43.36H399.93V43.94M400.55,53.8V44.09H400.76V53.8M400.33,53.8V43.34H400.65V44.09M401.14,53.8V44.5H401.29V53.8M400.98,53.8V43.93H401.21V44.5M400.49,43.34V42.77H401.1V43.93M399.75,43.36V42.27H400.79V42.77M401.46,53.8V44.4H401.61V53.8M402.01,53.8V44.58H402.18V53.8M401.8,53.8V44.08H402.1V44.58M401.53,44.4V43.58H401.95V44.08M400.27,42.27V41.22H401.74V43.58M398.8,42.86V40.1H401.01V41.22M396.02,39.78V37.41H399.9V40.1M402.54,53.8V44.59H402.68V53.8M402.35,53.8V44.06H402.61V44.59M402.79,53.8V44.53H402.96V53.8M402.87,44.53V44.03H403.14V53.8M403.3,53.8V43.96H403.5V53.8M403.01,44.03V43.15H403.4V43.96M402.48,44.06V42.3H403.2V43.15M403.9,53.8V44.4H404.04V53.8M403.7,53.8V43.87H403.97V44.4M404.39,53.8V44.31H404.6V53.8M404.19,53.8V43.66H404.49V44.31M403.84,43.87V42.95H404.34V43.66M402.84,42.3V41.41H404.09V42.95M405.02,53.8V44.63H405.15V53.8M404.82,53.8V44.13H405.08V44.63M405.31,53.8V44.29H405.55V53.8M405.43,44.29V43.79H405.78V53.8M404.95,44.13V43.15H405.61V43.79M405.98,53.8V44.37H406.18V53.8M406.08,44.37V43.87H406.38V53.8M406.69,53.8V44.76H406.84V53.8M406.55,53.8V44.26H406.77V44.76M406.23,43.87V43.37H406.66V44.26M405.28,43.15V41.79H406.44V43.37M403.46,41.41V38.64H405.86V41.79M407.05,53.8V44.18H407.23V53.8M407.14,44.18V43.68H407.4V53.8M407.63,53.8V44.17H407.8V53.8M407.27,43.68V43.18H407.72V44.17M408.09,53.8V44.57H408.22V53.8M407.95,53.8V44.04H408.16V44.57M408.35,53.8V44.5H408.5V53.8M408.42,44.5V43.77H408.71V53.8M408.05,44.04V43.05H408.56V43.77M409.07,53.8V44.42H409.22V53.8M408.92,53.8V43.92H409.15V44.42M409.39,53.8V44.28H409.55V53.8M409.72,53.8V44.31H409.9V53.8M409.47,44.28V43.35H409.81V44.31M409.03,43.92V42.84H409.64V43.35M408.31,43.05V41.98H409.33V42.84M407.49,43.18V41.13H408.82V41.98M404.66,38.64V37.5H408.16V41.13M397.96,37.41V35H406.41V37.5M384.76,35.5V33H402.19V35M410.1,53.8V43.96H410.31V53.8M410.64,53.8V44.55H410.79V53.8M410.49,53.8V44.05H410.71V44.55M410.97,53.8V44.24H411.15V53.8M410.6,44.05V43.49H411.06V44.24M410.21,43.96V42.77H410.83V43.49M411.31,53.8V44.44H411.47V53.8M411.66,53.8V44.39H411.82V53.8M411.39,44.44V43.89H411.74V44.39M411.98,53.8V44.18H412.15V53.8M411.57,43.89V42.74H412.07V44.18M410.52,42.77V41.1H411.82V42.74M412.3,53.8V44.04H412.5V53.8M412.74,53.8V44.13H412.92V53.8M412.4,44.04V43.39H412.83V44.13M413.09,53.8V44.35H413.26V53.8M413.41,53.8V44.58H413.55V53.8M413.48,44.58V44.08H413.66V53.8M413.8,53.8V44.33H413.97V53.8M413.57,44.08V43.58H413.88V44.33M413.17,44.35V43.08H413.73V43.58M412.61,43.39V41.6H413.45V43.08M411.17,41.1V39.55H413.03V41.6M414.13,53.8V44.6H414.26V53.8M414.37,53.8V44.41H414.53V53.8M414.2,44.6V43.58H414.45V44.41M414.92,53.8V44.5H415.07V53.8M414.75,53.8V43.91H414.99V44.5M415.23,53.8V44.32H415.37V53.8M415.48,53.8V44.57H415.62V53.8M415.3,44.32V43.65H415.55V44.57M414.87,43.91V42.76H415.43V43.65M414.32,43.58V42.26H415.15V42.76M416.21,53.8V44.76H416.34V53.8M416.05,53.8V44.26H416.27V44.76M415.83,53.8V43.76H416.16V44.26M416.72,53.8V44.62H416.87V53.8M416.51,53.8V44.12H416.8V44.62M416,43.76V42.98H416.65V44.12M414.74,42.26V41.36H416.32V42.98M417.03,53.8V44.34H417.21V53.8M417.12,44.34V43.84H417.36V53.8M417.53,53.8V44.34H417.73V53.8M417.24,43.84V43.24H417.63V44.34M417.93,53.8V44.59H418.08V53.8M418.01,44.59V44.09H418.26V53.8M418.52,53.8V44.84H418.66V53.8M418.42,53.8V44.34H418.59V44.84M418.51,44.34V43.51H418.88V53.8M418.13,44.09V42.47H418.69V43.51M417.44,43.24V41.56H418.41V42.47M415.53,41.36V39.52H417.92V41.56M412.1,39.55V36H416.73V39.52M419.19,53.8V44.77H419.33V53.8M419.06,53.8V44.27H419.26V44.77M419.48,53.8V44.39H419.61V53.8M419.16,44.27V43.66H419.55V44.39M419.74,53.8V44.22H419.9V53.8M420.26,53.8V44.58H420.42V53.8M420.09,53.8V44.08H420.34V44.58M419.82,44.22V43.34H420.21V44.08M420.61,53.8V44.75H420.74V53.8M420.68,44.75V44.25H420.87V53.8M420.02,43.34V42.59H420.77V44.25M419.35,43.66V41.81H420.4V42.59M421.02,53.8V44.38H421.18V53.8M421.35,53.8V44.47H421.52V53.8M421.1,44.38V43.72H421.44V44.47M421.66,53.8V44.62H421.79V53.8M421.72,44.62V44.12H421.94V53.8M422.11,53.8V44.42H422.26V53.8M422.41,53.8V44.49H422.54V53.8M422.18,44.42V43.92H422.47V44.49M421.83,44.12V43.42H422.33V43.92M421.27,43.72V42.43H422.08V43.42M422.85,53.8V44.45H423.04V53.8M422.68,53.8V43.95H422.95V44.45M423.25,53.8V44.36H423.44V53.8M423.62,53.8V44.65H423.74V53.8M423.35,44.36V43.59H423.68V44.65M422.81,43.95V42.86H423.51V43.59M424,53.8V44.44H424.14V53.8M423.87,53.8V43.88H424.07V44.44M424.32,53.8V44.48H424.48V53.8M423.97,43.88V43.35H424.4V44.48M423.16,42.86V42.14H424.18V43.35M421.67,42.43V40.2H423.67V42.14M419.88,41.81V39.03H422.67V40.2M424.63,53.8V44.58H424.76V53.8M424.69,44.58V44.08H424.93V53.8M425.14,53.8V44.55H425.26V53.8M424.81,44.08V43.19H425.2V44.55M425.4,53.8V44.16H425.57V53.8M425.75,53.8V44.32H425.94V53.8M426.13,53.8V44.32H426.29V53.8M425.84,44.32V43.82H426.21V44.32M425.49,44.16V43.13H426.03V43.82M425,43.19V42.46H425.76V43.13M426.43,53.8V44.21H426.59V53.8M426.92,53.8V44.61H427.05V53.8M426.74,53.8V44.11H426.98V44.61M426.86,44.11V43.61H427.21V53.8M426.51,44.21V43.07H427.04V43.61M427.79,53.8V44.59H427.93V53.8M427.64,53.8V44.09H427.86V44.59M427.44,53.8V43.59H427.75V44.09M426.77,43.07V42.48H427.6V43.59M425.38,42.46V39.81H427.19V42.48M421.27,39.03V35.5H426.28V39.81M414.41,36V34.2H423.78V35.5M428.06,53.8V44.38H428.21V53.8M428.38,53.8V44.53H428.52V53.8M428.67,53.8V44.34H428.86V53.8M428.45,44.53V43.84H428.77V44.34M428.14,44.38V43.34H428.61V43.84M429.01,53.8V44.75H429.15V53.8M429.08,44.75V44.25H429.3V53.8M429.43,53.8V44.34H429.56V53.8M429.19,44.25V43.55H429.5V44.34M428.37,43.34V42.47H429.34V43.55M429.85,53.8V44.63H430.02V53.8M429.71,53.8V44.13H429.94V44.63M430.22,53.8V44.64H430.35V53.8M429.82,44.13V43.36H430.29V44.64M430.45,53.8V44.11H430.64V53.8M430.06,43.36V42.53H430.55V44.11M428.86,42.47V41.19H430.3V42.53M430.88,53.8V44.01H431.12V53.8M431.57,53.8V44.34H431.73V53.8M431.35,53.8V43.84H431.65V44.34M431,44.01V43.3H431.5V43.84M431.87,53.8V44.36H432.03V53.8M432.15,53.8V44.06H432.33V53.8M432.56,53.8V44.46H432.73V53.8M432.24,44.06V43.31H432.65V44.46M431.95,44.36V42.8H432.44V43.31M431.25,43.3V41.74H432.2V42.8M429.58,41.19V38.43H431.72V41.74M433.09,53.8V44.6H433.22V53.8M433.34,53.8V44.61H433.47V53.8M433.16,44.6V44.1H433.41V44.61M432.91,53.8V43.6H433.28V44.1M433.8,53.8V44.59H433.95V53.8M433.64,53.8V44.09H433.88V44.59M434.13,53.8V44.13H434.32V53.8M433.76,44.09V43.42H434.23V44.13M433.1,43.6V42.31H433.99V43.42M434.67,53.8V44.32H434.8V53.8M434.52,53.8V43.79H434.73V44.32M435.19,53.8V44.47H435.34V53.8M435,53.8V43.97H435.27V44.47M434.62,43.79V43.29H435.13V43.97M433.54,42.31V41.81H434.88V43.29M435.68,53.8V44.21H435.84V53.8M435.51,53.8V43.71H435.76V44.21M436,53.8V44.81H436.13V53.8M436.06,44.81V44.31H436.27V53.8M436.81,53.8V44.82H436.94V53.8M436.66,53.8V44.32H436.87V44.82M436.46,53.8V43.39H436.77V44.32M436.16,44.31V42.83H436.61V43.39M435.64,43.71V42.31H436.39V42.83M434.21,41.81V39.54H436.01V42.31M430.65,38.43V35.8H435.11V39.54M437.1,53.8V44.51H437.25V53.8M437.35,53.8V44.51H437.48V53.8M437.18,44.51V44.01H437.42V44.51M437.61,53.8V44.64H437.74V53.8M437.92,53.8V44.58H438.07V53.8M437.68,44.64V44.08H437.99V44.58M437.3,44.01V42.7H437.84V44.08M438.39,53.8V44.61H438.53V53.8M438.22,53.8V44.11H438.46V44.61M438.9,53.8V44.52H439.04V53.8M438.7,53.8V43.94H438.97V44.52M439.42,53.8V44.32H439.58V53.8M439.21,53.8V43.82H439.5V44.32M438.84,43.94V42.9H439.36V43.82M438.34,44.11V42.4H439.1V42.9M437.57,42.7V41.48H438.72V42.4M439.73,53.8V44.4H439.87V53.8M439.99,53.8V44.9H440.13V53.8M440.06,44.9V44.4H440.29V53.8M439.8,44.4V43.9H440.17V44.4M440.42,53.8V44.34H440.57V53.8M440.69,53.8V44.47H440.83V53.8M440.5,44.34V43.84H440.76V44.47M441,53.8V44.32H441.14V53.8M440.63,43.84V43.15H441.07V44.32M439.99,43.9V41.96H440.85V43.15M441.39,53.8V44.76H441.53V53.8M441.25,53.8V44.26H441.46V44.76M441.7,53.8V44.5H441.85V53.8M441.77,44.5V43.91H442.03V53.8M441.36,44.26V43.41H441.9V43.91M442.2,53.8V44.48H442.36V53.8M442.54,53.8V44.38H442.67V53.8M442.28,44.48V43.65H442.6V44.38M441.63,43.41V42.16H442.44V43.65M440.42,41.96V40.92H442.03V42.16M442.81,53.8V44.46H443V53.8M442.91,44.46V43.96H443.23V53.8M443.43,53.8V44.12H443.62V53.8M443.07,43.96V43.46H443.53V44.12M443.81,53.8V44.46H443.96V53.8M444.15,53.8V44.16H444.35V53.8M443.88,44.46V43.4H444.25V44.16M444.76,53.8V44.49H444.92V53.8M444.55,53.8V43.77H444.84V44.49M444.07,43.4V42.9H444.69V43.77M443.3,43.46V41.52H444.38V42.9M441.23,40.92V39.21H443.84V41.52M438.14,41.48V36.2H442.53V39.21M432.88,35.8V34.5H440.34V36.2M419.1,34.2V32.6H436.61V34.5M445.04,53.8V44.57H445.18V53.8M445.34,53.8V44.57H445.47V53.8M445.11,44.57V43.88H445.41V44.57M445.62,53.8V44.23H445.81V53.8M445.99,53.8V44.34H446.19V53.8M445.71,44.23V43.34H446.09V44.34M445.26,43.88V42.27H445.9V43.34M446.36,53.8V44.32H446.52V53.8M446.44,44.32V43.82H446.75V53.8M447.14,53.8V44.48H447.31V53.8M446.95,53.8V43.98H447.23V44.48M446.59,43.82V43.32H447.09V43.98M445.58,42.27V41.08H446.84V43.32M447.66,53.8V44.38H447.78V53.8M447.47,53.8V43.83H447.72V44.38M447.92,53.8V44.33H448.09V53.8M448.27,53.8V44.71H448.4V53.8M448.34,44.71V44.21H448.51V53.8M448.01,44.33V43.61H448.42V44.21M447.6,43.83V43.11H448.21V43.61M448.89,53.8V44.29H449.04V53.8M448.69,53.8V43.79H448.97V44.29M447.9,43.11V42.01H448.83V43.79M446.21,41.08V40.42H448.37V42.01M449.18,53.8V44.57H449.35V53.8M449.27,44.57V44.07H449.57V53.8M449.79,53.8V43.96H450V53.8M449.42,44.07V42.77H449.9V43.96M450.17,53.8V44.51H450.31V53.8M450.43,53.8V44.62H450.56V53.8M450.24,44.51V43.8H450.5V44.62M450.73,53.8V44.29H450.92V53.8M450.37,43.8V43.3H450.83V44.29M449.66,42.77V42.22H450.6V43.3M447.29,40.42V38.85H450.13V42.22M451.1,53.8V44.57H451.24V53.8M451.17,44.57V43.79H451.39V53.8M451.6,53.8V44.21H451.81V53.8M451.28,43.79V43.24H451.7V44.21M451.99,53.8V43.98H452.19V53.8M452.41,53.8V44.57H452.57V53.8M452.49,44.57V44.07H452.75V53.8M452.09,43.98V43.06H452.62V44.07M451.49,43.24V42.37H452.36V43.06M452.98,53.8V44.02H453.21V53.8M453.39,53.8V44.51H453.53V53.8M453.68,53.8V44.57H453.82V53.8M453.75,44.57V44.07H454V53.8M453.46,44.51V43.43H453.87V44.07M453.09,44.02V42.92H453.67V43.43M454.18,53.8V44.33H454.35V53.8M454.47,53.8V44.6H454.61V53.8M454.75,53.8V44.6H454.88V53.8M454.54,44.6V44.1H454.81V44.6M454.27,44.33V43.01H454.68V44.1M453.38,42.92V42.04H454.47V43.01M451.92,42.37V40.26H453.93V42.04M455.02,53.8V44.49H455.16V53.8M455.31,53.8V44.66H455.44V53.8M455.09,44.49V43.9H455.37V44.66M455.6,53.8V44.33H455.78V53.8M455.94,53.8V44.19H456.11V53.8M455.69,44.33V43.35H456.02V44.19M455.23,43.9V42.61H455.86V43.35M456.26,53.8V44.44H456.44V53.8M456.67,53.8V44.44H456.85V53.8M456.76,44.44V43.94H457.03V53.8M456.35,44.44V43.01H456.89V43.94M457.43,53.8V44.26H457.63V53.8M457.23,53.8V43.76H457.53V44.26M457.78,53.8V44.47H457.91V53.8M457.38,43.76V43.26H457.84V44.47M456.62,43.01V42.08H457.61V43.26M455.55,42.61V40.44H457.12V42.08M452.93,40.26V37.27H456.33V40.44M448.71,38.85V35.5H454.63V37.27M458.09,53.8V44.35H458.28V53.8M458.42,53.8V44.4H458.56V53.8M458.19,44.35V43.71H458.49V44.4M458.9,53.8V44.44H459.05V53.8M458.72,53.8V43.8H458.97V44.44M459.44,53.8V44.48H459.64V53.8M459.23,53.8V43.98H459.54V44.48M458.85,43.8V43.3H459.38V43.98M458.34,43.71V42.02H459.11V43.3M459.8,53.8V44.58H459.94V53.8M459.87,44.58V44.05H460.09V53.8M460.22,53.8V44.76H460.38V53.8M460.3,44.76V44.26H460.57V53.8M460.44,44.26V43.76H460.76V53.8M459.98,44.05V43.1H460.6V43.76M458.73,42.02V40.27H460.29V43.1M460.92,53.8V44.33H461.08V53.8M461.3,53.8V44.33H461.49V53.8M461,44.33V43.83H461.4V44.33M461.79,53.8V44.6H461.93V53.8M461.67,53.8V44.05H461.86V44.6M462.1,53.8V44.31H462.25V53.8M461.76,44.05V43.55H462.18V44.31M461.2,43.83V42.61H461.97V43.55M462.48,53.8V44.77H462.62V53.8M462.37,53.8V44.27H462.55V44.77M462.77,53.8V44.56H462.9V53.8M463.05,53.8V44.73H463.17V53.8M463.11,44.73V44.23H463.35V53.8M462.83,44.56V43.73H463.23V44.23M462.46,44.27V43.23H463.03V43.73M461.58,42.61V40.53H462.75V43.23M459.51,40.27V38.38H462.16V40.53M463.58,53.8V44.12H463.77V53.8M463.94,53.8V44.64H464.08V53.8M464.01,44.64V44.14H464.21V53.8M463.67,44.12V43.06H464.11V44.14M464.62,53.8V44.27H464.77V53.8M464.42,53.8V43.77H464.7V44.27M464.56,43.77V43.27H464.96V53.8M463.89,43.06V42.18H464.76V43.27M465.14,53.8V44.41H465.29V53.8M465.72,53.8V44.47H465.88V53.8M465.5,53.8V43.79H465.8V44.47M465.21,44.41V43.23H465.65V43.79M464.33,42.18V41.52H465.43V43.23M466.29,53.8V44.52H466.48V53.8M466.39,44.52V44.02H466.65V53.8M466.05,53.8V43.52H466.52V44.02M466.81,53.8V44.36H466.98V53.8M467.19,53.8V44.1H467.39V53.8M466.89,44.36V43.31H467.29V44.1M466.29,43.52V42.04H467.09V43.31M467.51,53.8V44.5H467.68V53.8M467.59,44.5V43.97H467.86V53.8M468.01,53.8V44.31H468.17V53.8M467.73,43.97V43.47H468.09V44.31M468.35,53.8V44.57H468.49V53.8M468.62,53.8V44.54H468.76V53.8M468.42,44.57V44.04H468.69V44.54M468.91,53.8V44.11H469.14V53.8M469.32,53.8V44.22H469.5V53.8M469.03,44.11V43.61H469.41V44.22M469.74,53.8V44.14H469.93V53.8M469.22,43.61V43.11H469.84V44.14M468.55,44.04V42.61H469.53V43.11M467.91,43.47V41.08H469.04V42.61M466.69,42.04V40.03H468.47V41.08M464.88,41.52V38.96H467.58V40.03M460.84,38.38V35.8H466.23V38.96M451.67,35.5V33.9H463.53V35.8M470.09,53.8V44.43H470.26V53.8M470.38,53.8V45H470.51V53.8M470.45,45V44.5H470.66V53.8M470.56,44.5V44H470.83V53.8M470.18,44.43V43.5H470.69V44M470.98,53.8V44.61H471.11V53.8M471.3,53.8V44.51H471.47V53.8M471.05,44.61V44.01H471.38V44.51M471.79,53.8V44.51H471.94V53.8M471.64,53.8V43.89H471.87V44.51M471.22,44.01V43.18H471.75V43.89M470.44,43.5V41.19H471.48V43.18M472.16,53.8V43.99H472.4V53.8M472.59,53.8V44.72H472.73V53.8M472.66,44.72V44.22H472.87V53.8M473.04,53.8V44.5H473.23V53.8M473.13,44.5V44H473.44V53.8M472.77,44.22V43.24H473.29V44M472.28,43.99V42.01H473.03V43.24M473.61,53.8V44.68H473.74V53.8M473.67,44.68V44.18H473.86V53.8M473.77,44.18V43.68H474.04V53.8M474.22,53.8V44.64H474.36V53.8M474.29,44.64V44.14H474.52V53.8M473.9,43.68V42.94H474.41V44.14M472.65,42.01V41.05H474.15V42.94M470.96,41.19V39.54H473.4V41.05M474.7,53.8V44.3H474.91V53.8M475.09,53.8V44.5H475.24V53.8M474.81,44.3V43.8H475.17V44.5M475.4,53.8V44.15H475.59V53.8M474.99,43.8V43.24H475.5V44.15M475.76,53.8V44.48H475.9V53.8M476.08,53.8V44.36H476.24V53.8M475.83,44.48V43.86H476.16V44.36M476.63,53.8V44.63H476.77V53.8M476.42,53.8V44.13H476.7V44.63M475.99,43.86V43.32H476.56V44.13M476.9,53.8V44.43H477.05V53.8M477.16,53.8V44.33H477.3V53.8M476.97,44.43V43.71H477.23V44.33M477.47,53.8V44.37H477.65V53.8M477.1,43.71V43.08H477.56V44.37M476.28,43.32V42.23H477.33V43.08M475.24,43.24V40.91H476.8V42.23M478.08,53.8V44.54H478.28V53.8M477.86,53.8V44.04H478.18V44.54M478.42,53.8V44.28H478.6V53.8M478.02,44.04V43.29H478.51V44.28M479.1,53.8V44.66H479.24V53.8M478.99,53.8V44.16H479.17V44.66M478.82,53.8V43.65H479.08V44.16M478.27,43.29V42.27H478.95V43.65M476.02,40.91V40.02H478.61V42.27M472.18,39.54V36.36H477.32V40.02M479.4,53.8V44.47H479.55V53.8M479.69,53.8V44.54H479.81V53.8M479.91,53.8V44.54H480.05V53.8M479.75,44.54V44.04H479.98V44.54M479.48,44.47V43.54H479.87V44.04M480.24,53.8V44.32H480.45V53.8M479.67,43.54V43.04H480.35V44.32M480.84,53.8V44.46H481.01V53.8M480.67,53.8V43.69H480.93V44.46M481.39,53.8V44.69H481.53V53.8M481.22,53.8V44.19H481.46V44.69M480.8,43.69V43.19H481.34V44.19M481.67,53.8V44.32H481.86V53.8M481.76,44.32V43.64H482.07V53.8M482.23,53.8V44.44H482.36V53.8M481.91,43.64V43.14H482.3V44.44M482.69,53.8V44.7H482.83V53.8M482.5,53.8V44.2H482.76V44.7M482.11,43.14V42.54H482.63V44.2M481.07,43.19V42.04H482.37V42.54M480.01,43.04V39.7H481.72V42.04M482.99,53.8V44.17H483.18V53.8M483.38,53.8V44.16H483.6V53.8M483.08,44.17V43.66H483.49V44.16M483.77,53.8V44.63H483.9V53.8M484.06,53.8V44.61H484.2V53.8M483.84,44.63V44.07H484.13V44.61M484.37,53.8V44.1H484.56V53.8M484.73,53.8V44.23H484.91V53.8M484.47,44.1V43.6H484.82V44.23M483.98,44.07V43.08H484.64V43.6M483.29,43.66V41.41H484.31V43.08M480.86,39.7V39.2H483.8V41.41M474.75,36.36V35.4H482.33V39.2M485.06,53.8V44.49H485.2V53.8M485.13,44.49V43.99H485.37V53.8M485.56,53.8V44.58H485.71V53.8M485.63,44.58V44.08H485.86V53.8M486.06,53.8V44.41H486.22V53.8M485.74,44.08V43.32H486.14V44.41M485.25,43.99V42.82H485.94V43.32M486.37,53.8V44.28H486.54V53.8M486.7,53.8V44.24H486.9V53.8M486.45,44.28V43.74H486.8V44.24M487.06,53.8V44.35H487.19V53.8M487.33,53.8V44.25H487.49V53.8M487.13,44.35V43.74H487.41V44.25M486.63,43.74V42.69H487.27V43.74M485.6,42.82V40.63H486.95V42.69M487.67,53.8V44.54H487.86V53.8M487.76,44.54V44.04H488.09V53.8M488.31,53.8V44.39H488.45V53.8M487.93,44.04V43.54H488.38V44.39M488.55,53.8V44.31H488.71V53.8M488.63,44.31V43.81H488.94V53.8M489.13,53.8V44.17H489.29V53.8M488.78,43.81V43.04H489.21V44.17M489.5,53.8V43.99H489.72V53.8M489,43.04V42.24H489.61V43.99M488.15,43.54V41.22H489.3V42.24M486.27,40.63V38.7H488.73V41.22M489.91,53.8V44.42H490.08V53.8M490.21,53.8V44.66H490.35V53.8M490.28,44.66V44.16H490.55V53.8M489.99,44.42V43.4H490.41V44.16M490.75,53.8V44.34H490.9V53.8M491.07,53.8V44.38H491.19V53.8M490.83,44.34V43.84H491.13V44.38M490.98,43.84V43.34H491.36V53.8M491.55,53.8V44.36H491.72V53.8M491.63,44.36V43.72H491.89V53.8M491.17,43.34V42.84H491.76V43.72M492.32,53.8V44.28H492.54V53.8M492.09,53.8V43.78H492.43V44.28M491.47,42.84V42.34H492.26V43.78M490.2,43.4V40.87H491.86V42.34M492.95,53.8V44.44H493.09V53.8M493.24,53.8V44.51H493.38V53.8M493.02,44.44V43.89H493.31V44.51M492.76,53.8V43.39H493.17V43.89M493.49,53.8V44.77H493.62V53.8M493.55,44.77V44.27H493.78V53.8M493.96,53.8V44.16H494.19V53.8M494.58,53.8V44.68H494.71V53.8M494.4,53.8V44.18H494.65V44.68M494.08,44.16V43.52H494.52V44.18M493.67,44.27V42.37H494.3V43.52M492.96,43.39V41.87H493.99V42.37M491.03,40.87V39.66H493.47V41.87M494.95,53.8V44.62H495.09V53.8M494.81,53.8V44.1H495.02V44.62M495.62,53.8V44.86H495.78V53.8M495.44,53.8V44.36H495.7V44.86M495.25,53.8V43.86H495.57V44.36M494.91,44.1V43.28H495.41V43.86M496.12,53.8V44.41H496.31V53.8M495.93,53.8V43.91H496.21V44.41M496.5,53.8V44.43H496.68V53.8M496.07,43.91V42.95H496.59V44.43M496.87,53.8V44.24H497.1V53.8M497.34,53.8V44.28H497.55V53.8M497.77,53.8V44.06H497.97V53.8M497.45,44.28V43.49H497.87V44.06M496.99,44.24V42.91H497.66V43.49M496.33,42.95V41.61H497.32V42.91M495.16,43.28V41.11H496.83V41.61M498.27,53.8V44.87H498.43V53.8M498.13,53.8V44.37H498.35V44.87M498.24,44.37V43.87H498.63V53.8M498.85,53.8V44.48H499.01V53.8M499.17,53.8V44.45H499.33V53.8M498.93,44.48V43.59H499.25V44.45M498.43,43.87V42.66H499.09V43.59M499.59,53.8V44.72H499.72V53.8M499.47,53.8V44.22H499.66V44.72M499.56,44.22V43.72H499.9V53.8M498.76,42.66V42.16H499.73V43.72M495.99,41.11V37.99H499.25V42.16M492.25,39.66V36.1H497.62V37.99M487.5,38.7V35.6H494.94V36.1M478.54,35.4V34H491.22V35.6M457.6,33.9V32.4H484.88V34M500.23,53.8V44.79H500.38V53.8M500.08,53.8V44.29H500.3V44.79M500.5,53.8V44.35H500.63V53.8M500.19,44.29V43.79H500.57V44.35M500.89,53.8V44.8H501.02V53.8M500.77,53.8V44.3H500.96V44.8M500.87,44.3V43.7H501.22V53.8M501.44,53.8V44.25H501.6V53.8M501.04,43.7V43.2H501.52V44.25M501.7,53.8V44.84H501.82V53.8M501.76,44.84V44.34H502.02V53.8M501.89,44.34V43.84H502.25V53.8M501.28,43.2V42.7H502.07V43.84M500.38,43.79V40.86H501.68V42.7M502.65,53.8V44.44H502.79V53.8M502.48,53.8V43.75H502.72V44.44M503.21,53.8V44.23H503.4V53.8M503,53.8V43.73H503.31V44.23M503.55,53.8V44.59H503.72V53.8M503.63,44.59V44.09H503.9V53.8M503.15,43.73V43.23H503.77V44.09M502.6,43.75V42.28H503.46V43.23M501.03,40.86V39.03H503.03V42.28M504.09,53.8V44.24H504.26V53.8M504.45,53.8V44.22H504.61V53.8M504.79,53.8V44.1H505.02V53.8M504.53,44.22V43.58H504.91V44.1M504.18,44.24V43.04H504.72V43.58M505.4,53.8V44.72H505.55V53.8M505.48,44.72V44.22H505.72V53.8M505.24,53.8V43.72H505.6V44.22M504.45,43.04V42.54H505.42V43.72M505.86,53.8V44.67H506.01V53.8M505.93,44.67V44.17H506.19V53.8M506.37,53.8V44.13H506.57V53.8M506.06,44.17V43.45H506.47V44.13M506.76,53.8V44.54H506.91V53.8M507.07,53.8V44.01H507.29V53.8M506.84,44.54V43.47H507.18V44.01M506.27,43.45V41.86H507.01V43.47M507.7,53.8V44.5H507.88V53.8M507.5,53.8V44H507.79V44.5M508.08,53.8V44.11H508.28V53.8M508.48,53.8V44.09H508.68V53.8M508.18,44.11V43.48H508.58V44.09M507.65,44V42.98H508.38V43.48M506.64,41.86V40.34H508.01V42.98M504.93,42.54V38.39H507.33V40.34M502.03,39.03V35.9H506.13V38.39M508.84,53.8V44.38H508.99V53.8M509.15,53.8V44.27H509.33V53.8M509.52,53.8V44.33H509.66V53.8M509.24,44.27V43.77H509.59V44.33M508.91,44.38V43.27H509.41V43.77M509.79,53.8V44.28H509.94V53.8M510.1,53.8V44.53H510.26V53.8M510.18,44.53V43.94H510.4V53.8M509.86,44.28V43.44H510.29V43.94M509.16,43.27V42.19H510.08V43.44M510.58,53.8V44.19H510.76V53.8M510.94,53.8V44.19H511.14V53.8M510.67,44.19V43.69H511.04V44.19M509.62,42.19V41.69H510.86V43.69M511.54,53.8V44.45H511.71V53.8M511.36,53.8V43.95H511.63V44.45M512.11,53.8V44.28H512.28V53.8M511.93,53.8V43.78H512.19V44.28M511.49,43.95V43.28H512.06V43.78M512.48,53.8V44.26H512.68V53.8M512.58,44.26V43.63H512.89V53.8M511.78,43.28V42.35H512.73V43.63M510.24,41.69V39.78H512.26V42.35M504.08,35.9V35.4H511.25V39.78M513.39,53.8V44.6H513.54V53.8M513.26,53.8V44.1H513.46V44.6M513.1,53.8V43.54H513.36V44.1M513.67,53.8V44.48H513.81V53.8M513.95,53.8V44.73H514.08V53.8M514.02,44.73V44.23H514.25V53.8M513.74,44.48V43.32H514.13V44.23M514.45,53.8V44.23H514.63V53.8M514.73,53.8V44.5H514.86V53.8M514.54,44.23V43.63H514.8V44.5M513.94,43.32V42.52H514.67V43.63M513.23,43.54V41.33H514.3V42.52M515.21,53.8V44.28H515.37V53.8M515.04,53.8V43.78H515.29V44.28M515.51,53.8V44.28H515.66V53.8M515.87,53.8V44.51H516.02V53.8M515.94,44.51V44.01H516.15V53.8M515.59,44.28V43.27H516.05V44.01M515.16,43.78V42.67H515.82V43.27M516.29,53.8V44.34H516.43V53.8M516.58,53.8V44.22H516.74V53.8M516.36,44.34V43.72H516.66V44.22M517.05,53.8V44.58H517.18V53.8M516.9,53.8V44.07H517.11V44.58M517.46,53.8V44.74H517.61V53.8M517.29,53.8V44.24H517.54V44.74M517.01,44.07V43.42H517.41V44.24M516.51,43.72V42.1H517.21V43.42M518.09,53.8V44.97H518.22V53.8M517.94,53.8V44.47H518.16V44.97M517.76,53.8V43.97H518.05V44.47M518.35,53.8V44.63H518.48V53.8M518.42,44.63V44.13H518.65V53.8M517.9,43.97V43.32H518.54V44.13M516.86,42.1V41.35H518.22V43.32M515.49,42.67V40.68H517.54V41.35M513.77,41.33V37.48H516.51V40.68M518.86,53.8V44.16H519.05V53.8M519.22,53.8V44.25H519.39V53.8M518.96,44.16V43.46H519.31V44.25M519.77,53.8V44.56H519.9V53.8M519.6,53.8V43.74H519.84V44.56M520.04,53.8V44.34H520.21V53.8M519.72,43.74V43.18H520.13V44.34M520.52,53.8V45.05H520.65V53.8M520.37,53.8V44.55H520.58V45.05M520.48,44.55V44.05H520.77V53.8M519.92,43.18V42.63H520.62V44.05M519.13,43.46V41.64H520.27V42.63M520.92,53.8V44.47H521.08V53.8M521,44.47V43.97H521.28V53.8M521.43,53.8V44.38H521.56V53.8M521.5,44.38V43.79H521.74V53.8M521.97,53.8V44.27H522.15V53.8M522.06,44.27V43.77H522.31V53.8M521.62,43.79V43.17H522.19V43.77M521.14,43.97V42.67H521.9V43.17M519.7,41.64V39.64H521.52V42.67M522.44,53.8V44.52H522.58V53.8M522.77,53.8V44.54H522.91V53.8M522.84,44.54V44.04H523.06V53.8M522.51,44.52V43.54H522.95V44.04M523.25,53.8V44.29H523.4V53.8M523.8,53.8V44.49H523.94V53.8M523.6,53.8V43.99H523.87V44.49M523.32,44.29V43.08H523.74V43.99M522.73,43.54V42.53H523.53V43.08M520.61,39.64V38.79H523.13V42.53M515.14,37.48V35.8H521.87V38.79M507.66,35.4V34.1H518.51V35.8M524.09,53.8V44.47H524.23V53.8M524.35,53.8V44.67H524.51V53.8M524.64,53.8V44.67H524.77V53.8M524.43,44.67V44.17H524.7V44.67M524.16,44.47V43.67H524.57V44.17M524.93,53.8V44.31H525.08V53.8M525.23,53.8V44.36H525.42V53.8M525.01,44.31V43.33H525.33V44.36M524.36,43.67V42.49H525.17V43.33M525.82,53.8V44.35H526V53.8M525.64,53.8V43.75H525.91V44.35M526.4,53.8V44.61H526.53V53.8M526.2,53.8V43.87H526.46V44.61M526.66,53.8V44.37H526.81V53.8M526.93,53.8V44.62H527.06V53.8M526.73,44.37V43.87H526.99V44.62M526.33,43.87V43.37H526.86V43.87M525.77,43.75V42.02H526.6V43.37M527.48,53.8V44.6H527.66V53.8M527.57,44.6V44.1H527.84V53.8M527.27,53.8V43.57H527.7V44.1M528.14,53.8V44.67H528.27V53.8M528.02,53.8V44.17H528.21V44.67M528.48,53.8V44.43H528.65V53.8M528.11,44.17V43.41H528.56V44.43M527.48,43.57V42.56H528.34V43.41M526.18,42.02V41.19H527.91V42.56M524.76,42.49V39.44H527.05V41.19M528.78,53.8V44.34H528.94V53.8M529.38,53.8V44.12H529.62V53.8M529.14,53.8V43.62H529.5V44.12M528.86,44.34V43.12H529.32V43.62M529.96,53.8V44.58H530.09V53.8M529.82,53.8V44.02H530.03V44.58M530.21,53.8V44.39H530.39V53.8M529.92,44.02V43.52H530.3V44.39M530.79,53.8V44.62H530.92V53.8M530.62,53.8V44.12H530.86V44.62M530.11,43.52V43.02H530.74V44.12M529.09,43.12V41.16H530.43V43.02M525.91,39.44V36.75H529.76V41.16M531.39,53.8V44.62H531.54V53.8M531.26,53.8V44.12H531.46V44.62M531.09,53.8V43.62H531.36V44.12M531.7,53.8V44.03H531.9V53.8M531.23,43.62V42.87H531.8V44.03M532.1,53.8V44.37H532.23V53.8M532.39,53.8V44.55H532.56V53.8M532.48,44.55V44.05H532.71V53.8M532.17,44.37V43.55H532.59V44.05M532.92,53.8V44.33H533.1V53.8M533.01,44.33V43.73H533.26V53.8M532.38,43.55V43.05H533.13V43.73M533.4,53.8V44.25H533.56V53.8M533.73,53.8V44.5H533.88V53.8M533.48,44.25V43.66H533.8V44.5M532.76,43.05V42.24H533.64V43.66M531.51,42.87V40.44H533.2V42.24M534.03,53.8V44.3H534.22V53.8M534.44,53.8V44.36H534.64V53.8M534.12,44.3V43.74H534.54V44.36M534.85,53.8V44.19H535.1V53.8M534.33,43.74V42.52H534.97V44.19M535.29,53.8V44.23H535.46V53.8M535.68,53.8V44.16H535.9V53.8M535.37,44.23V43.66H535.79V44.16M534.65,42.52V41.97H535.58V43.66M532.36,40.44V39.4H535.12V41.97M527.83,36.75V35.5H533.74V39.4M536.24,53.8V44.65H536.36V53.8M536.09,53.8V44.15H536.3V44.65M536.5,53.8V44.51H536.63V53.8M536.2,44.15V43.65H536.57V44.51M537.09,53.8V44.87H537.21V53.8M536.94,53.8V44.37H537.15V44.87M536.79,53.8V43.87H537.04V44.37M536.38,43.65V43.01H536.92V43.87M537.68,53.8V44.92H537.82V53.8M537.52,53.8V44.42H537.75V44.92M537.36,53.8V43.92H537.64V44.42M538.19,53.8V44.31H538.35V53.8M537.99,53.8V43.81H538.27V44.31M537.5,43.92V42.63H538.13V43.81M538.59,53.8V44.92H538.71V53.8M538.48,53.8V44.42H538.65V44.92M538.84,53.8V44.57H538.97V53.8M538.91,44.57V44.07H539.12V53.8M538.56,44.42V43.44H539.01V44.07M539.36,53.8V44.83H539.49V53.8M539.25,53.8V44.33H539.43V44.83M538.79,43.44V42.94H539.34V44.33M537.81,42.63V41.97H539.06V42.94M536.65,43.01V40.61H538.44V41.97M539.61,53.8V44.59H539.74V53.8M539.67,44.59V43.96H539.94V53.8M540.26,53.8V44.46H540.39V53.8M540.13,53.8V43.96H540.33V44.46M539.81,43.96V43.46H540.23V43.96M540.74,53.8V44.66H540.91V53.8M540.54,53.8V44.16H540.82V44.66M540.02,43.46V42.2H540.68V44.16M541.05,53.8V44.29H541.24V53.8M541.15,44.29V43.58H541.46V53.8M541.69,53.8V44.14H541.9V53.8M541.3,43.58V42.84H541.8V44.14M540.35,42.2V41.68H541.55V42.84M542.11,53.8V44.14H542.33V53.8M542.22,44.14V43.61H542.55V53.8M542.73,53.8V44.67H542.87V53.8M542.8,44.67V44.17H543.06V53.8M542.38,43.61V42.49H542.93V44.17M543.29,53.8V44.08H543.53V53.8M543.76,53.8V44.2H543.96V53.8M543.41,44.08V43.58H543.86V44.2M542.66,42.49V41.53H543.64V43.58M540.95,41.68V40.11H543.15V41.53M537.54,40.61V35.7H542.05V40.11M544.17,53.8V44.23H544.35V53.8M544.49,53.8V44.57H544.62V53.8M544.26,44.23V43.73H544.55V44.57M544.75,53.8V44.37H544.95V53.8M545.12,53.8V44.54H545.26V53.8M544.85,44.37V43.87H545.19V44.54M545.39,53.8V44.32H545.54V53.8M545.02,43.87V42.84H545.46V44.32M544.4,43.73V41.98H545.24V42.84M545.85,53.8V44.33H546.01V53.8M545.71,53.8V43.83H545.93V44.33M546.31,53.8V44.48H546.47V53.8M546.18,53.8V43.98H546.39V44.48M545.82,43.83V43.33H546.28V43.98M546.9,53.8V44.31H547.09V53.8M546.69,53.8V43.81H547V44.31M546.05,43.33V42.83H546.84V43.81M547.27,53.8V44.22H547.47V53.8M547.37,44.22V43.72H547.67V53.8M547.82,53.8V44.23H547.98V53.8M547.52,43.72V43.13H547.9V44.23M546.45,42.83V41.49H547.71V43.13M544.82,41.98V40.55H547.08V41.49M539.8,35.7V35.2H545.95V40.55M530.78,35.5V33.8H542.87V35.2M513.08,34.1V32.7H536.83V33.8M548.16,53.8V42.55H548.3V53.8M548.23,42.55V41.84H548.49V53.8M548.71,53.8V42.3H548.88V53.8M549.06,53.8V42.61H549.25V53.8M548.8,42.3V41.29H549.15V42.61M548.36,41.84V39.05H548.97V41.29M549.38,53.8V42.97H549.54V53.8M549.72,53.8V43.22H549.84V53.8M549.98,53.8V42.68H550.19V53.8M549.78,43.22V40.92H550.09V42.68M549.46,42.97V40.42H549.93V40.92M550.38,53.8V42.47H550.54V53.8M550.72,53.8V42.87H550.88V53.8M550.8,42.87V41.41H551.03V53.8M550.46,42.47V40.91H550.92V41.41M551.2,53.8V42.5H551.34V53.8M551.27,42.5V42H551.51V53.8M550.69,40.91V39.24H551.39V42M549.7,40.42V36.91H551.04V39.24M548.67,39.05V34.83H550.37V36.91M551.66,53.8V42.85H551.8V53.8M551.73,42.85V41.47H551.96V53.8M552.16,53.8V42.18H552.39V53.8M552.9,53.8V42.96H553.03V53.8M552.78,53.8V42.03H552.97V42.96M552.61,53.8V41.02H552.87V42.03M552.28,42.18V39.05H552.74V41.02M551.85,41.47V37.68H552.51V39.05M553.18,53.8V43.05H553.31V53.8M553.25,43.05V42.15H553.42V53.8M553.56,53.8V42.36H553.73V53.8M553.65,42.36V40.98H553.94V53.8M553.33,42.15V40.22H553.79V40.98M552.18,37.68V36.6H553.56V40.22M549.52,34.83V31.5H552.87V36.6M554.14,53.8V42.94H554.32V53.8M554.23,42.94V41.79H554.49V53.8M554.68,53.8V41.96H554.88V53.8M554.36,41.79V39.42H554.78V41.96M555.02,53.8V43.17H555.15V53.8M555.09,43.17V42.37H555.3V53.8M555.6,53.8V42.75H555.74V53.8M555.45,53.8V41.92H555.67V42.75M555.19,42.37V40.1H555.56V41.92M556.11,53.8V42.73H556.29V53.8M555.92,53.8V41.01H556.2V42.73M555.38,40.1V37.83H556.06V41.01M556.47,53.8V42.37H556.68V53.8M556.87,53.8V43H557.02V53.8M556.57,42.37V41.5H556.94V43M555.72,37.83V35.94H556.76V41.5M554.57,39.42V33.71H556.24V35.94M557.2,53.8V42.52H557.42V53.8M557.6,53.8V42.87H557.75V53.8M557.68,42.87V42.37H557.88V53.8M557.78,42.37V40.94H558.07V53.8M557.31,42.52V40.01H557.93V40.94M558.31,53.8V42.96H558.48V53.8M558.62,53.8V42.78H558.79V53.8M558.71,42.78V41.97H558.98V53.8M558.39,42.96V39.59H558.84V41.97M559.17,53.8V42.41H559.31V53.8M559.46,53.8V42.28H559.68V53.8M559.24,42.41V40.19H559.57V42.28M558.62,39.59V37.66H559.41V40.19M557.62,40.01V35H559.01V37.66M555.4,33.71V31.5H558.32V35M551.19,31.5V31H556.86V31.5M559.98,53.8V43.26H560.11V53.8M559.87,53.8V42.76H560.05V43.26M560.26,53.8V41.89H560.46V53.8M559.96,42.76V40.63H560.36V41.89M560.67,53.8V42.74H560.82V53.8M560.75,42.74V42.24H560.96V53.8M561.1,53.8V43.01H561.22V53.8M560.85,42.24V40.46H561.16V43.01M561.34,53.8V42.62H561.47V53.8M561.62,53.8V43.31H561.77V53.8M561.41,42.62V41.11H561.7V43.31M561.01,40.46V39.96H561.55V41.11M560.16,40.63V36.33H561.28V39.96M561.9,53.8V42.59H562.04V53.8M561.97,42.59V41.63H562.23V53.8M562.44,53.8V42.02H562.64V53.8M562.95,53.8V42.76H563.08V53.8M562.8,53.8V42.03H563.02V42.76M562.54,42.02V39.87H562.91V42.03M562.1,41.63V39.26H562.73V39.87M560.72,36.33V33.74H562.41V39.26M563.19,53.8V42.81H563.34V53.8M563.27,42.81V41.76H563.52V53.8M563.65,53.8V42.82H563.78V53.8M563.91,53.8V42.56H564.06V53.8M564.23,53.8V43.2H564.38V53.8M563.99,42.56V41.92H564.3V43.2M563.72,42.82V41.06H564.15V41.92M563.39,41.76V38.09H563.93V41.06M564.56,53.8V42.66H564.72V53.8M564.86,53.8V42.08H565.05V53.8M564.64,42.66V41.52H564.96V42.08M565.25,53.8V42.06H565.43V53.8M565.34,42.06V41.04H565.63V53.8M564.8,41.52V39.27H565.48V41.04M565.8,53.8V43.1H565.93V53.8M565.86,43.1V41.71H566.09V53.8M566.3,53.8V42.04H566.48V53.8M565.98,41.71V40.37H566.39V42.04M565.14,39.27V35.62H566.18V40.37M563.66,38.09V34.76H565.66V35.62M566.63,53.8V42.7H566.79V53.8M566.71,42.7V42.06H566.96V53.8M567.11,53.8V42.7H567.26V53.8M567.18,42.7V41.66H567.45V53.8M566.83,42.06V40.1H567.32V41.66M567.65,53.8V42.17H567.84V53.8M568.25,53.8V42.87H568.39V53.8M568.05,53.8V42.37H568.32V42.87M568.18,42.37V40.38H568.55V53.8M567.74,42.17V39.31H568.37V40.38M568.74,53.8V42.76H568.87V53.8M568.8,42.76V42.14H569.03V53.8M568.92,42.14V40.72H569.28V53.8M568.06,39.31V36.67H569.1V40.72M567.08,40.1V33.72H568.58V36.67M564.66,34.76V31H567.83V33.72M561.57,33.74V30.5H566.24V31M569.48,53.8V42.85H569.61V53.8M569.74,53.8V42.3H569.9V53.8M569.54,42.85V40.93H569.82V42.3M570.25,53.8V42.93H570.41V53.8M570.08,53.8V42.06H570.33V42.93M570.79,53.8V42.88H570.92V53.8M570.6,53.8V41.68H570.86V42.88M570.2,42.06V39.59H570.73V41.68M569.68,40.93V37.12H570.47V39.59M571.06,53.8V43.04H571.21V53.8M571.4,53.8V42.2H571.6V53.8M571.13,43.04V41.47H571.5V42.2M571.79,53.8V42.79H571.98V53.8M572.13,53.8V42.1H572.3V53.8M572.53,53.8V42.59H572.71V53.8M572.21,42.1V41.18H572.62V42.59M571.88,42.79V39.57H572.42V41.18M571.32,41.47V38.49H572.15V39.57M570.07,37.12V33.51H571.73V38.49M572.86,53.8V42.63H573.04V53.8M573.22,53.8V42.8H573.39V53.8M572.95,42.63V40.65H573.3V42.8M573.56,53.8V43.07H573.71V53.8M573.89,53.8V42.76H574.05V53.8M573.64,43.07V41.55H573.97V42.76M574.18,53.8V42.59H574.32V53.8M574.51,53.8V42.07H574.74V53.8M574.25,42.59V40.9H574.62V42.07M573.81,41.55V38.97H574.43V40.9M573.13,40.65V37.38H574.12V38.97M570.9,33.51V31.3H573.62V37.38M574.95,53.8V42.7H575.12V53.8M575.24,53.8V42.74H575.37V53.8M575.3,42.74V42.24H575.52V53.8M575.66,53.8V43.03H575.8V53.8M575.41,42.24V40.61H575.73V43.03M575.04,42.7V39.74H575.57V40.61M576.15,53.8V43.08H576.29V53.8M575.98,53.8V41.55H576.22V43.08M575.3,39.74V37.82H576.1V41.55M576.47,53.8V42.84H576.66V53.8M576.8,53.8V42.95H576.95V53.8M576.57,42.84V41.01H576.88V42.95M577.12,53.8V42.63H577.28V53.8M577.44,53.8V42.7H577.58V53.8M577.2,42.63V41.72H577.51V42.7M577.74,53.8V43.08H577.91V53.8M577.36,41.72V39.63H577.82V43.08M576.72,41.01V36.78H577.59V39.63M575.7,37.82V32.64H577.16V36.78M572.26,31.3V30.8H576.43V32.64M578.1,53.8V42.34H578.29V53.8M578.49,53.8V41.7H578.7V53.8M578.2,42.34V40.49H578.6V41.7M579.02,53.8V42.92H579.16V53.8M578.88,53.8V41.62H579.09V42.92M578.4,40.49V39.99H578.99V41.62M579.33,53.8V42.37H579.54V53.8M579.83,53.8V43.31H579.97V53.8M579.72,53.8V42.75H579.9V43.31M579.43,42.37V39.91H579.81V42.75M580.24,53.8V42.93H580.36V53.8M580.11,53.8V42.01H580.3V42.93M580.5,53.8V42.6H580.64V53.8M580.57,42.6V42.01H580.82V53.8M580.2,42.01V40.58H580.69V42.01M579.62,39.91V37.62H580.45V40.58M581.04,53.8V42.32H581.25V53.8M581.38,53.8V43.17H581.52V53.8M581.45,43.17V41.8H581.72V53.8M581.14,42.32V39.66H581.58V41.8M580.03,37.62V34.46H581.36V39.66M578.69,39.99V31.96H580.7V34.46M581.9,53.8V43.08H582.05V53.8M582.16,53.8V43.36H582.29V53.8M582.47,53.8V42.9H582.6V53.8M582.22,43.36V42.05H582.54V42.9M581.98,43.08V39.91H582.38V42.05M582.9,53.8V42.41H583.07V53.8M582.74,53.8V41.91H582.98V42.41M583.3,53.8V42.66H583.47V53.8M583.63,53.8V43.12H583.79V53.8M583.38,42.66V40.73H583.71V43.12M583.93,53.8V42.23H584.12V53.8M583.55,40.73V39.25H584.02V42.23M582.86,41.91V37.46H583.78V39.25M582.18,39.91V36.41H583.32V37.46M584.27,53.8V43.13H584.43V53.8M584.69,53.8V43.39H584.82V53.8M584.58,53.8V42.55H584.75V43.39M584.35,43.13V40.67H584.67V42.55M584.98,53.8V42.87H585.11V53.8M585.42,53.8V42.54H585.57V53.8M585.25,53.8V42.04H585.49V42.54M585.05,42.87V40.96H585.37V42.04M584.51,40.67V38.9H585.21V40.96M585.73,53.8V42.64H585.86V53.8M585.95,53.8V42.73H586.11V53.8M585.79,42.64V41.18H586.03V42.73M586.33,53.8V42.15H586.54V53.8M586.72,53.8V42.53H586.88V53.8M586.43,42.15V40.94H586.8V42.53M585.91,41.18V38.18H586.62V40.94M584.86,38.9V34.3H586.26V38.18M587.07,53.8V42.9H587.24V53.8M587.4,53.8V43H587.56V53.8M587.48,43V41.68H587.7V53.8M587.16,42.9V40.19H587.59V41.68M587.88,53.8V42.72H588.08V53.8M588.25,53.8V42.52H588.45V53.8M588.35,42.52V41.84H588.69V53.8M587.98,42.72V39.05H588.52V41.84M587.37,40.19V36.41H588.25V39.05M585.56,34.3V31.2H587.81V36.41M582.75,36.41V30.7H586.69V31.2M579.7,31.96V30.2H584.72V30.7M574.35,30.8V28.8H582.21V30.2M563.9,30.5V27.3H578.28V28.8M393.47,33V31.3H427.85V32.6M471.24,32.4V31H524.96V32.7M419.2,31.3V29.6H515.8V31M356.43,31.5V29.6H374.72V37M366.2,29.6V27.2H467.5V29.6M417.2,27.2V25.2H554.03V31M484.5,25.2V23.5H576.5V27.3" fill="none" stroke="#7f7f7f" stroke-width="0.6"/>
<text x="6.8" y="228" font-size="12.5" font-weight="bold" fill="#000">c</text>
<line x1="92.3" y1="231" x2="92.3" y2="364.6" stroke="#a8a8a8" stroke-width="1.1"/>
<line x1="88.2" y1="364.3" x2="92" y2="364.3" stroke="#555" stroke-width="0.8"/>
<text x="84.8" y="367.2" font-size="8.3" text-anchor="end">0</text>
<line x1="88.2" y1="331.05" x2="92" y2="331.05" stroke="#555" stroke-width="0.8"/>
<text x="84.8" y="333.95" font-size="8.3" text-anchor="end">50</text>
<line x1="88.2" y1="297.8" x2="92" y2="297.8" stroke="#555" stroke-width="0.8"/>
<text x="84.8" y="300.7" font-size="8.3" text-anchor="end">100</text>
<line x1="88.2" y1="264.55" x2="92" y2="264.55" stroke="#555" stroke-width="0.8"/>
<text x="84.8" y="267.45" font-size="8.3" text-anchor="end">150</text>
<line x1="88.2" y1="231.3" x2="92" y2="231.3" stroke="#555" stroke-width="0.8"/>
<text x="84.8" y="234.2" font-size="8.3" text-anchor="end">200</text>
<text x="51.5" y="296.8" font-size="9.3" text-anchor="middle" transform="rotate(-90 51.5 296.8)">Relative change of gene</text>
<text x="61.6" y="296.8" font-size="9.3" text-anchor="middle" transform="rotate(-90 61.6 296.8)">expression to wt (%)</text>
<line x1="128.2" y1="315.9" x2="128.2" y2="307.1" stroke="#222" stroke-width="0.8" stroke-dasharray="2.6,1.9"/>
<line x1="115.5" y1="307.1" x2="140.5" y2="307.1" stroke="#222" stroke-width="0.9"/>
<line x1="128.2" y1="338.7" x2="128.2" y2="362.4" stroke="#222" stroke-width="0.8" stroke-dasharray="2.6,1.9"/>
<line x1="115.5" y1="362.4" x2="140.5" y2="362.4" stroke="#222" stroke-width="0.9"/>
<path d="M103.2,315.9 L152.9,315.9 L141.1,321.4 L152.9,325.4 L152.9,338.7 L103.2,338.7 L103.2,325.4 L114.9,321.4 Z" fill="#fb8e6e" stroke="#222" stroke-width="0.8"/>
<line x1="114.9" y1="321.4" x2="141.1" y2="321.4" stroke="#000" stroke-width="1.5"/>
<line x1="189.9" y1="306.4" x2="189.9" y2="258.4" stroke="#222" stroke-width="0.8" stroke-dasharray="2.6,1.9"/>
<line x1="177.5" y1="258.4" x2="202.4" y2="258.4" stroke="#222" stroke-width="0.9"/>
<line x1="189.9" y1="338.3" x2="189.9" y2="360.5" stroke="#222" stroke-width="0.8" stroke-dasharray="2.6,1.9"/>
<line x1="177.9" y1="360.5" x2="202.3" y2="360.5" stroke="#222" stroke-width="0.9"/>
<path d="M165.2,306.4 L214.6,306.4 L214.6,324.8 L202.2,327.5 L214.6,329.7 L214.6,338.3 L165.2,338.3 L165.2,329.7 L177.6,327.5 L165.2,324.8 Z" fill="#9ecae1" stroke="#222" stroke-width="0.8"/>
<line x1="177.6" y1="327.5" x2="202.2" y2="327.5" stroke="#000" stroke-width="1.5"/>
<circle cx="189.8" cy="226.3" r="1.6" fill="#fff" stroke="#1a1a1a" stroke-width="0.85"/>
<circle cx="189.8" cy="229.8" r="1.6" fill="#fff" stroke="#1a1a1a" stroke-width="0.85"/>
<circle cx="189.8" cy="234.2" r="1.6" fill="#fff" stroke="#1a1a1a" stroke-width="0.85"/>
<circle cx="189.8" cy="235.6" r="1.6" fill="#fff" stroke="#1a1a1a" stroke-width="0.85"/>
<circle cx="189.8" cy="239.2" r="1.6" fill="#fff" stroke="#1a1a1a" stroke-width="0.85"/>
<circle cx="189.8" cy="240.6" r="1.6" fill="#fff" stroke="#1a1a1a" stroke-width="0.85"/>
<circle cx="189.8" cy="243.6" r="1.6" fill="#fff" stroke="#1a1a1a" stroke-width="0.85"/>
<circle cx="189.8" cy="247.6" r="1.6" fill="#fff" stroke="#1a1a1a" stroke-width="0.85"/>
<circle cx="189.8" cy="248.8" r="1.6" fill="#fff" stroke="#1a1a1a" stroke-width="0.85"/>
<circle cx="189.8" cy="250.2" r="1.6" fill="#fff" stroke="#1a1a1a" stroke-width="0.85"/>
<circle cx="189.8" cy="252.4" r="1.6" fill="#fff" stroke="#1a1a1a" stroke-width="0.85"/>
<circle cx="189.8" cy="255.2" r="1.6" fill="#fff" stroke="#1a1a1a" stroke-width="0.85"/>
<path d="M128.2,374 V369.9 H189.8 V374" fill="none" stroke="#999" stroke-width="0.9"/>
<rect x="74.1" y="385.1" width="8.3" height="7.5" fill="#ef8446"/>
<text x="87.2" y="392.3" font-size="9.3">Downregulated genes</text>
<rect x="74.1" y="405.1" width="8.3" height="7.5" fill="#8eaadb"/>
<text x="87.2" y="412" font-size="9.3">Upregulated genes</text>
<text x="320.8" y="227.9" font-size="12.5" font-weight="bold" fill="#000">d</text>
<rect x="462.8" y="217" width="150.2" height="178.5" fill="#ebebeb"/>
<rect x="468.9" y="220.5" width="137.6" height="14" fill="#ffae00"/>
<line x1="459" y1="227.5" x2="462.6" y2="227.5" stroke="#444" stroke-width="0.8"/>
<text x="455.9" y="230.3" font-size="9.5" text-anchor="end">Pollen tube growth</text>
<rect x="468.9" y="238.1" width="118.6" height="14" fill="#ffc400"/>
<line x1="459" y1="245.1" x2="462.6" y2="245.1" stroke="#444" stroke-width="0.8"/>
<text x="455.9" y="247.9" font-size="9.5" text-anchor="end">Cell tip growth</text>
<rect x="468.9" y="255.7" width="112.6" height="14" fill="#ffa800"/>
<line x1="459" y1="262.7" x2="462.6" y2="262.7" stroke="#444" stroke-width="0.8"/>
<text x="455.9" y="265.5" font-size="9.5" text-anchor="end">Pollen tube development</text>
<rect x="468.9" y="273.3" width="101.6" height="14" fill="#ffcb00"/>
<line x1="459" y1="280.3" x2="462.6" y2="280.3" stroke="#444" stroke-width="0.8"/>
<text x="455.9" y="283.1" font-size="9.5" text-anchor="end">Cell growth</text>
<rect x="468.9" y="290.9" width="86.4" height="14" fill="#ffdf00"/>
<line x1="459" y1="297.9" x2="462.6" y2="297.9" stroke="#444" stroke-width="0.8"/>
<text x="455.9" y="300.7" font-size="9.5" text-anchor="end">Cell differentiation</text>
<rect x="468.9" y="308.5" width="84.5" height="14" fill="#ffa500"/>
<line x1="459" y1="315.5" x2="462.6" y2="315.5" stroke="#444" stroke-width="0.8"/>
<text x="455.9" y="318.3" font-size="9.5" text-anchor="end">Pollination</text>
<rect x="468.9" y="326.1" width="84.5" height="14" fill="#ffa300"/>
<line x1="459" y1="333.1" x2="462.6" y2="333.1" stroke="#444" stroke-width="0.8"/>
<text x="455.9" y="335.9" font-size="9.5" text-anchor="end">Multicellular organism process</text>
<rect x="468.9" y="343.7" width="73.3" height="14" fill="#fff000"/>
<line x1="459" y1="350.7" x2="462.6" y2="350.7" stroke="#444" stroke-width="0.8"/>
<text x="455.9" y="353.5" font-size="9.5" text-anchor="end">Unidimensional cell growth</text>
<rect x="468.9" y="361.3" width="68.9" height="14" fill="#ffe800"/>
<line x1="459" y1="368.3" x2="462.6" y2="368.3" stroke="#444" stroke-width="0.8"/>
<text x="455.9" y="371.1" font-size="9.5" text-anchor="end">Cell development</text>
<rect x="468.9" y="378.9" width="65.4" height="14" fill="#ffff00"/>
<line x1="459" y1="385.9" x2="462.6" y2="385.9" stroke="#444" stroke-width="0.8"/>
<text x="455.9" y="386.4" font-size="9.5" text-anchor="end">Developmental growth involved</text>
<text x="455.9" y="396.1" font-size="9.5" text-anchor="end">in morphogenesis</text>
<line x1="468.9" y1="395.5" x2="468.9" y2="399" stroke="#444" stroke-width="0.8"/>
<text x="468.9" y="407.8" font-size="8.2" text-anchor="middle">0</text>
<line x1="506.31" y1="395.5" x2="506.31" y2="399" stroke="#444" stroke-width="0.8"/>
<text x="506.31" y="407.8" font-size="8.2" text-anchor="middle">3</text>
<line x1="543.72" y1="395.5" x2="543.72" y2="399" stroke="#444" stroke-width="0.8"/>
<text x="543.72" y="407.8" font-size="8.2" text-anchor="middle">6</text>
<line x1="581.13" y1="395.5" x2="581.13" y2="399" stroke="#444" stroke-width="0.8"/>
<text x="581.13" y="407.8" font-size="8.2" text-anchor="middle">9</text>
<text x="531.3" y="420.6" font-size="9.5" text-anchor="middle">Fold enrichment</text>
<defs><linearGradient id="gd" x1="0" x2="0" y1="0" y2="1"><stop offset="0" stop-color="#ffff00"/><stop offset="1" stop-color="#ffa500"/></linearGradient></defs>
<rect x="621" y="216.8" width="11.7" height="53.3" fill="url(#gd)"/>
<line x1="632.7" y1="217.4" x2="636.3" y2="217.4" stroke="#333" stroke-width="0.8"/>
<line x1="632.7" y1="269.8" x2="636.3" y2="269.8" stroke="#333" stroke-width="0.8"/>
<text x="637.5" y="220.3" font-size="7.8" textLength="6.9" lengthAdjust="spacingAndGlyphs">12</text>
<text x="637.5" y="273.1" font-size="7.8" textLength="8.9" lengthAdjust="spacingAndGlyphs">20</text>
<text x="615.3" y="285.6" font-size="9.3" textLength="42" lengthAdjust="spacingAndGlyphs"><tspan>log</tspan><tspan dy="2.33" font-size="6.32">10</tspan><tspan dy="-2.33">(FDR)</tspan></text>
<text x="6.5" y="453.3" font-size="12.5" font-weight="bold" fill="#000">e</text>
<ellipse cx="151.4" cy="576" rx="56.2" ry="53.7" fill="#a8cf8e"/>
<ellipse cx="214.3" cy="575.8" rx="29.8" ry="31.5" fill="#f9cfb2"/>
<defs><clipPath id="cg"><ellipse cx="151.4" cy="576" rx="56.2" ry="53.7"/></clipPath></defs>
<ellipse cx="214.3" cy="575.8" rx="29.8" ry="31.5" fill="#d6bd86" clip-path="url(#cg)"/>
<text x="143.3" y="579.9" font-size="9.3" text-anchor="middle">7,022</text>
<text x="192.3" y="579.9" font-size="9.3" text-anchor="middle" textLength="13.2" lengthAdjust="spacingAndGlyphs">131</text>
<text x="228.6" y="579.9" font-size="9.3" text-anchor="middle">376</text>
<text x="129.2" y="492.2" font-size="9.3" text-anchor="middle">Predicted targets</text>
<text x="130.6" y="502.8" font-size="9.3" text-anchor="middle" textLength="51.7" lengthAdjust="spacingAndGlyphs">of PMsiRNAs</text>
<text x="130.5" y="513.4" font-size="9.3" text-anchor="middle" textLength="27" lengthAdjust="spacingAndGlyphs">(7,158)</text>
<text x="227.4" y="492.2" font-size="9.3" text-anchor="middle">Normalized genes</text>
<text x="228" y="504.8" font-size="9.3" text-anchor="middle"><tspan>in </tspan><tspan font-style="italic">nrpd1</tspan><tspan dy="-3.72" font-size="6.32">s</tspan><tspan dy="3.72">/wt</tspan><tspan dy="-3.72" font-size="6.32">r</tspan></text>
<text x="227.9" y="520.7" font-size="9.3" text-anchor="middle">(507)</text>
<text x="412.2" y="454.2" font-size="12.5" font-weight="bold" fill="#000">f</text>
<rect x="435.8" y="479.9" width="20.6" height="11.88" fill="#d32f2a"/>
<rect x="456.4" y="479.9" width="20.7" height="11.88" fill="#5577c0"/>
<rect x="477.1" y="479.9" width="20.6" height="11.88" fill="#e4eaf6"/>
<text x="502.9" y="489.14" font-size="8.1" font-style="italic" textLength="74.85" lengthAdjust="spacingAndGlyphs">Carubv10003402m.g</text>
<rect x="435.8" y="491.78" width="20.6" height="11.88" fill="#d32f2a"/>
<rect x="456.4" y="491.78" width="20.7" height="11.88" fill="#5577c0"/>
<rect x="477.1" y="491.78" width="20.6" height="11.88" fill="#edf1fa"/>
<text x="502.9" y="501.02" font-size="8.1" font-style="italic" textLength="73.1" lengthAdjust="spacingAndGlyphs">Carubv10025186m.g</text>
<rect x="435.8" y="503.66" width="20.6" height="11.88" fill="#d63a35"/>
<rect x="456.4" y="503.66" width="20.7" height="11.88" fill="#4a6fbf"/>
<rect x="477.1" y="503.66" width="20.6" height="11.88" fill="#fcf2f2"/>
<text x="502.9" y="512.9" font-size="8.1" font-style="italic" textLength="74.85" lengthAdjust="spacingAndGlyphs">Carubv10002764m.g</text>
<rect x="435.8" y="515.54" width="20.6" height="11.88" fill="#d63a35"/>
<rect x="456.4" y="515.54" width="20.7" height="11.88" fill="#4a6fbf"/>
<rect x="477.1" y="515.54" width="20.6" height="11.88" fill="#fdf6f6"/>
<text x="502.9" y="524.78" font-size="8.1" font-style="italic" textLength="71.35" lengthAdjust="spacingAndGlyphs">Carubv10011347m.g</text>
<rect x="435.8" y="527.42" width="20.6" height="11.88" fill="#d63a35"/>
<rect x="456.4" y="527.42" width="20.7" height="11.88" fill="#4a6fbf"/>
<rect x="477.1" y="527.42" width="20.6" height="11.88" fill="#fefafa"/>
<text x="502.9" y="536.66" font-size="8.1" font-style="italic" textLength="73.1" lengthAdjust="spacingAndGlyphs">Carubv10027719m.g</text>
<rect x="435.8" y="539.3" width="20.6" height="11.88" fill="#d63a35"/>
<rect x="456.4" y="539.3" width="20.7" height="11.88" fill="#4a6fbf"/>
<rect x="477.1" y="539.3" width="20.6" height="11.88" fill="#fefbfb"/>
<text x="502.9" y="548.54" font-size="8.1" font-style="italic" textLength="74.85" lengthAdjust="spacingAndGlyphs">Carubv10020696m.g</text>
<rect x="435.8" y="551.18" width="20.6" height="11.88" fill="#d63a35"/>
<rect x="456.4" y="551.18" width="20.7" height="11.88" fill="#4a6fbf"/>
<rect x="477.1" y="551.18" width="20.6" height="11.88" fill="#fefcfc"/>
<text x="502.9" y="560.42" font-size="8.1" font-style="italic" textLength="73.1" lengthAdjust="spacingAndGlyphs">Carubv10003159m.g</text>
<rect x="435.8" y="563.06" width="20.6" height="11.88" fill="#e47a76"/>
<rect x="456.4" y="563.06" width="20.7" height="11.88" fill="#2d55b2"/>
<rect x="477.1" y="563.06" width="20.6" height="11.88" fill="#eb9b9b"/>
<text x="502.9" y="572.3" font-size="8.1" font-style="italic" textLength="73.1" lengthAdjust="spacingAndGlyphs">Carubv10004261m.g</text>
<rect x="435.8" y="574.94" width="20.6" height="11.88" fill="#e47a76"/>
<rect x="456.4" y="574.94" width="20.7" height="11.88" fill="#2d55b2"/>
<rect x="477.1" y="574.94" width="20.6" height="11.88" fill="#eca0a0"/>
<text x="502.9" y="584.18" font-size="8.1" font-style="italic" textLength="71.35" lengthAdjust="spacingAndGlyphs">Carubv10010218m.g</text>
<rect x="435.8" y="586.82" width="20.6" height="11.88" fill="#dc5753"/>
<rect x="456.4" y="586.82" width="20.7" height="11.88" fill="#2d55b2"/>
<rect x="477.1" y="586.82" width="20.6" height="11.88" fill="#f2bcbc"/>
<text x="502.9" y="596.06" font-size="8.1" font-style="italic" textLength="73.1" lengthAdjust="spacingAndGlyphs">Carubv10026195m.g</text>
<rect x="435.8" y="598.7" width="20.6" height="11.88" fill="#dc5753"/>
<rect x="456.4" y="598.7" width="20.7" height="11.88" fill="#2d55b2"/>
<rect x="477.1" y="598.7" width="20.6" height="11.88" fill="#f2c0c0"/>
<text x="502.9" y="607.94" font-size="8.1" font-style="italic" textLength="74.85" lengthAdjust="spacingAndGlyphs">Carubv10006733m.g</text>
<rect x="435.8" y="610.58" width="20.6" height="11.88" fill="#d94c48"/>
<rect x="456.4" y="610.58" width="20.7" height="11.88" fill="#2f57b2"/>
<rect x="477.1" y="610.58" width="20.6" height="11.88" fill="#f8dede"/>
<text x="502.9" y="619.82" font-size="8.1" font-style="italic" textLength="74.85" lengthAdjust="spacingAndGlyphs">Carubv10025984m.g</text>
<rect x="435.8" y="622.46" width="20.6" height="11.88" fill="#d94c48"/>
<rect x="456.4" y="622.46" width="20.7" height="11.88" fill="#3059b3"/>
<rect x="477.1" y="622.46" width="20.6" height="11.88" fill="#f6d4d4"/>
<text x="502.9" y="631.7" font-size="8.1" font-style="italic" textLength="73.1" lengthAdjust="spacingAndGlyphs">Carubv10013277m.g</text>
<line x1="456.4" y1="479.9" x2="456.4" y2="634.34" stroke="#fff" stroke-width="0.7"/>
<line x1="477.1" y1="479.9" x2="477.1" y2="634.34" stroke="#fff" stroke-width="0.7"/>
<line x1="435.8" y1="491.78" x2="497.7" y2="491.78" stroke="#fff" stroke-width="0.7"/>
<line x1="435.8" y1="503.66" x2="497.7" y2="503.66" stroke="#fff" stroke-width="0.7"/>
<line x1="435.8" y1="515.54" x2="497.7" y2="515.54" stroke="#fff" stroke-width="0.7"/>
<line x1="435.8" y1="527.42" x2="497.7" y2="527.42" stroke="#fff" stroke-width="0.7"/>
<line x1="435.8" y1="539.3" x2="497.7" y2="539.3" stroke="#fff" stroke-width="0.7"/>
<line x1="435.8" y1="551.18" x2="497.7" y2="551.18" stroke="#fff" stroke-width="0.7"/>
<line x1="435.8" y1="563.06" x2="497.7" y2="563.06" stroke="#fff" stroke-width="0.7"/>
<line x1="435.8" y1="574.94" x2="497.7" y2="574.94" stroke="#fff" stroke-width="0.7"/>
<line x1="435.8" y1="586.82" x2="497.7" y2="586.82" stroke="#fff" stroke-width="0.7"/>
<line x1="435.8" y1="598.7" x2="497.7" y2="598.7" stroke="#fff" stroke-width="0.7"/>
<line x1="435.8" y1="610.58" x2="497.7" y2="610.58" stroke="#fff" stroke-width="0.7"/>
<line x1="435.8" y1="622.46" x2="497.7" y2="622.46" stroke="#fff" stroke-width="0.7"/>
<text x="446.5" y="476" font-size="9.4" transform="rotate(-42 446.5 476)"><tspan>wt</tspan><tspan dy="-3.76" font-size="6.39">s</tspan><tspan dy="3.76">/wt</tspan><tspan dy="-3.76" font-size="6.39">r</tspan></text>
<text x="469.5" y="476" font-size="7.8" transform="rotate(-42 469.5 476)"><tspan font-style="italic">nrpd1</tspan><tspan dy="-3.12" font-size="5.3">s</tspan><tspan dy="3.12" font-style="italic">/</tspan><tspan font-style="italic">nrpd1</tspan><tspan dy="-3.12" font-size="5.3">r</tspan></text>
<text x="489.5" y="476.5" font-size="9.4" transform="rotate(-42 489.5 476.5)"><tspan font-style="italic">nrpd1</tspan><tspan dy="-3.76" font-size="6.39">s</tspan><tspan dy="3.76">/wt</tspan><tspan dy="-3.76" font-size="6.39">r</tspan></text>
<path d="M435.8,485.84H421.4V497.72H435.8M435.8,545.24H432V557.12H435.8M435.8,533.36H428.3V551.18H432M435.8,521.48H424.5V542.27H428.3M435.8,509.6H421.4V531.88H424.5M421.4,491.78H418.4V520.74H421.4M435.8,569H421.4V580.88H435.8M435.8,592.76H425.1V604.64H435.8M435.8,616.52H425.1V628.4H435.8M425.1,598.7H421.4V622.46H425.1M421.4,574.94H418.4V610.58H421.4M418.4,506.26H414.3V592.76H418.4" fill="none" stroke="#999" stroke-width="0.8"/>
<defs><linearGradient id="gf" x1="0" x2="0" y1="0" y2="1"><stop offset="0" stop-color="#cc1111"/><stop offset="0.5" stop-color="#ffffff"/><stop offset="1" stop-color="#1f3f9e"/></linearGradient></defs>
<rect x="586" y="487.2" width="8.2" height="58.7" fill="url(#gf)"/>
<line x1="594.2" y1="487.2" x2="594.2" y2="545.9" stroke="#555" stroke-width="0.5"/>
<line x1="594.2" y1="487.7" x2="596.2" y2="487.7" stroke="#555" stroke-width="0.6"/>
<text x="598.6" y="490.5" font-size="8.0">1.2</text>
<line x1="594.2" y1="516.5" x2="596.2" y2="516.5" stroke="#555" stroke-width="0.6"/>
<text x="598.6" y="519.3" font-size="8.0">0</text>
<line x1="594.2" y1="545.1" x2="596.2" y2="545.1" stroke="#555" stroke-width="0.6"/>
<text x="598.6" y="547.9" font-size="8.0" textLength="12.6" lengthAdjust="spacingAndGlyphs">–1.2</text>
<text x="585.7" y="565.1" font-size="9.3">logTPM</text>
<text x="0.1" y="669" font-size="12.5" font-weight="bold" fill="#000">g</text>
<line x1="32.3" y1="691.5" x2="32.3" y2="809" stroke="#a8a8a8" stroke-width="1.1"/>
<line x1="29.2" y1="808.4" x2="32.2" y2="808.4" stroke="#555" stroke-width="0.7"/>
<text x="25.5" y="811.1" font-size="7.6" text-anchor="end">0</text>
<line x1="29.2" y1="785.16" x2="32.2" y2="785.16" stroke="#555" stroke-width="0.7"/>
<text x="25.5" y="787.86" font-size="7.6" text-anchor="end">0.1</text>
<line x1="29.2" y1="761.92" x2="32.2" y2="761.92" stroke="#555" stroke-width="0.7"/>
<text x="25.5" y="764.62" font-size="7.6" text-anchor="end">0.2</text>
<line x1="29.2" y1="738.68" x2="32.2" y2="738.68" stroke="#555" stroke-width="0.7"/>
<text x="25.5" y="741.38" font-size="7.6" text-anchor="end">0.3</text>
<line x1="29.2" y1="715.44" x2="32.2" y2="715.44" stroke="#555" stroke-width="0.7"/>
<text x="25.5" y="718.14" font-size="7.6" text-anchor="end">0.4</text>
<line x1="29.2" y1="692.2" x2="32.2" y2="692.2" stroke="#555" stroke-width="0.7"/>
<text x="25.5" y="694.9" font-size="7.6" text-anchor="end">0.5</text>
<text x="7.8" y="751.4" font-size="9.0" text-anchor="middle" transform="rotate(-90 7.8 751.4)">CG methylation</text>
<text x="86.4" y="695" font-size="8.2" text-anchor="middle">NS</text>
<line x1="47.4" y1="698.4" x2="120.8" y2="698.4" stroke="#444" stroke-width="0.7"/>
<text x="69.4" y="714.9" font-size="8.2" text-anchor="middle">NS</text>
<line x1="48.4" y1="717.3" x2="84.8" y2="717.3" stroke="#444" stroke-width="0.7"/>
<text x="111" y="714.2" font-size="8.2" text-anchor="middle">NS</text>
<line x1="91.1" y1="717.3" x2="128.5" y2="717.3" stroke="#444" stroke-width="0.7"/>
<circle cx="54.9" cy="726.6" r="1.5" fill="#fff" stroke="#333" stroke-width="0.6"/>
<circle cx="54.9" cy="734.6" r="1.5" fill="#fff" stroke="#333" stroke-width="0.6"/>
<circle cx="54.9" cy="741.8" r="1.5" fill="#fff" stroke="#333" stroke-width="0.6"/>
<circle cx="90.6" cy="727.6" r="1.5" fill="#fff" stroke="#333" stroke-width="0.6"/>
<circle cx="90.6" cy="730.2" r="1.5" fill="#fff" stroke="#333" stroke-width="0.6"/>
<circle cx="90.6" cy="743.9" r="1.5" fill="#fff" stroke="#333" stroke-width="0.6"/>
<circle cx="126.4" cy="728.8" r="1.5" fill="#fff" stroke="#333" stroke-width="0.6"/>
<circle cx="126.4" cy="730.6" r="1.5" fill="#fff" stroke="#333" stroke-width="0.6"/>
<circle cx="126.4" cy="741.1" r="1.5" fill="#fff" stroke="#333" stroke-width="0.6"/>
<line x1="48.9" y1="808" x2="60.9" y2="808" stroke="#444" stroke-width="0.7"/>
<rect x="40.2" y="786.9" width="29.4" height="20.8" fill="#a1d99b" stroke="#444" stroke-width="0.7"/>
<line x1="40.2" y1="805.1" x2="69.6" y2="805.1" stroke="#333" stroke-width="1.3"/>
<line x1="84.75" y1="808" x2="96.75" y2="808" stroke="#444" stroke-width="0.7"/>
<rect x="76.4" y="789" width="28.7" height="18.2" fill="#bdbdbd" stroke="#444" stroke-width="0.7"/>
<line x1="76.4" y1="803.3" x2="105.1" y2="803.3" stroke="#333" stroke-width="1.3"/>
<line x1="120.75" y1="808" x2="132.75" y2="808" stroke="#444" stroke-width="0.7"/>
<rect x="112.6" y="789" width="28.3" height="18.5" fill="#fec44f" stroke="#444" stroke-width="0.7"/>
<line x1="112.6" y1="806" x2="140.9" y2="806" stroke="#333" stroke-width="1.3"/>
<path d="M54.9,817.7 V813.1 H126.4 V817.7 M90.6,813.1 V817.7" fill="none" stroke="#888" stroke-width="0.8"/>
<text x="59.7" y="826.3" font-size="9.3" text-anchor="end" transform="rotate(-45 59.7 826.3)"><tspan>wt</tspan><tspan dy="-3.72" font-size="6.32">s</tspan><tspan dy="3.72">/wt</tspan><tspan dy="-3.72" font-size="6.32">r</tspan></text>
<text x="95.4" y="826.3" font-size="9.3" text-anchor="end" transform="rotate(-45 95.4 826.3)"><tspan font-style="italic">nrpd1</tspan><tspan dy="-3.72" font-size="6.32">s</tspan><tspan dy="3.72" font-style="italic">/</tspan><tspan font-style="italic">nrpd1</tspan><tspan dy="-3.72" font-size="6.32">r</tspan></text>
<text x="131.2" y="826.3" font-size="9.3" text-anchor="end" transform="rotate(-45 131.2 826.3)"><tspan font-style="italic">nrpd1</tspan><tspan dy="-3.72" font-size="6.32">s</tspan><tspan dy="3.72">/wt</tspan><tspan dy="-3.72" font-size="6.32">r</tspan></text>
<line x1="191.6" y1="693" x2="191.6" y2="806.5" stroke="#a8a8a8" stroke-width="1.1"/>
<line x1="187.6" y1="805.9" x2="191.4" y2="805.9" stroke="#555" stroke-width="0.7"/>
<text x="184.6" y="808.6" font-size="7.6" text-anchor="end">0</text>
<line x1="187.6" y1="777.8" x2="191.4" y2="777.8" stroke="#555" stroke-width="0.7"/>
<text x="184.6" y="780.5" font-size="7.6" text-anchor="end">0.05</text>
<line x1="187.6" y1="749.7" x2="191.4" y2="749.7" stroke="#555" stroke-width="0.7"/>
<text x="184.6" y="752.4" font-size="7.6" text-anchor="end">0.10</text>
<line x1="187.6" y1="721.6" x2="191.4" y2="721.6" stroke="#555" stroke-width="0.7"/>
<text x="184.6" y="724.3" font-size="7.6" text-anchor="end">0.15</text>
<line x1="187.6" y1="693.5" x2="191.4" y2="693.5" stroke="#555" stroke-width="0.7"/>
<text x="184.6" y="696.2" font-size="7.6" text-anchor="end">0.20</text>
<text x="162.6" y="750.5" font-size="9.0" text-anchor="middle" transform="rotate(-90 162.6 750.5)">CHG methylation</text>
<text x="237.1" y="744.9" font-size="8.2" text-anchor="middle">NS</text>
<line x1="204.2" y1="748.4" x2="278" y2="748.4" stroke="#444" stroke-width="0.7"/>
<text x="218.2" y="765.2" font-size="8.2" text-anchor="middle">NS</text>
<line x1="197.4" y1="767.6" x2="234.6" y2="767.6" stroke="#444" stroke-width="0.7"/>
<text x="260.3" y="764.5" font-size="8.2" text-anchor="middle">NS</text>
<line x1="240.6" y1="767.6" x2="278" y2="767.6" stroke="#444" stroke-width="0.7"/>
<line x1="212.9" y1="802.5" x2="212.9" y2="805.5" stroke="#444" stroke-width="0.6"/>
<rect x="199" y="803.2" width="27.6" height="2" fill="#3a4a3a" stroke="#222" stroke-width="0.6"/>
<circle cx="212.6" cy="801.3" r="1.4" fill="#fff" stroke="#333" stroke-width="0.6"/>
<line x1="246.6" y1="798" x2="246.6" y2="806.5" stroke="#666" stroke-width="0.6"/>
<line x1="240" y1="798" x2="253" y2="798" stroke="#666" stroke-width="0.6"/>
<line x1="240" y1="806.3" x2="253" y2="806.3" stroke="#aaa" stroke-width="0.6"/>
<rect x="232.9" y="799.9" width="27.4" height="4.3" fill="#a9a9a9" stroke="#333" stroke-width="0.6"/>
<line x1="232.9" y1="802.2" x2="260.3" y2="802.2" stroke="#222" stroke-width="1.1"/>
<line x1="280.6" y1="799.5" x2="280.6" y2="806" stroke="#888" stroke-width="0.6"/>
<line x1="274" y1="799.5" x2="287" y2="799.5" stroke="#aaa" stroke-width="0.6"/>
<rect x="266.8" y="802.2" width="27.6" height="2.6" fill="#8c8c8c" stroke="#333" stroke-width="0.6"/>
<line x1="266.8" y1="803.5" x2="294.4" y2="803.5" stroke="#222" stroke-width="1.1"/>
<path d="M212.6,814.4 V811.3 H280.3 V814.4 M246.5,811.3 V814.4" fill="none" stroke="#888" stroke-width="0.8"/>
<text x="217.4" y="823.3" font-size="9.3" text-anchor="end" transform="rotate(-45 217.4 823.3)"><tspan>wt</tspan><tspan dy="-3.72" font-size="6.32">s</tspan><tspan dy="3.72">/wt</tspan><tspan dy="-3.72" font-size="6.32">r</tspan></text>
<text x="251.3" y="823.3" font-size="9.3" text-anchor="end" transform="rotate(-45 251.3 823.3)"><tspan font-style="italic">nrpd1</tspan><tspan dy="-3.72" font-size="6.32">s</tspan><tspan dy="3.72" font-style="italic">/</tspan><tspan font-style="italic">nrpd1</tspan><tspan dy="-3.72" font-size="6.32">r</tspan></text>
<text x="285.1" y="823.3" font-size="9.3" text-anchor="end" transform="rotate(-45 285.1 823.3)"><tspan font-style="italic">nrpd1</tspan><tspan dy="-3.72" font-size="6.32">s</tspan><tspan dy="3.72">/wt</tspan><tspan dy="-3.72" font-size="6.32">r</tspan></text>
<line x1="343.4" y1="690" x2="343.4" y2="807.8" stroke="#a8a8a8" stroke-width="1.1"/>
<line x1="339.4" y1="807.2" x2="343.2" y2="807.2" stroke="#555" stroke-width="0.7"/>
<text x="336.4" y="809.9" font-size="7.6" text-anchor="end">0</text>
<line x1="339.4" y1="777.9" x2="343.2" y2="777.9" stroke="#555" stroke-width="0.7"/>
<text x="336.4" y="780.6" font-size="7.6" text-anchor="end">0.05</text>
<line x1="339.4" y1="748.6" x2="343.2" y2="748.6" stroke="#555" stroke-width="0.7"/>
<text x="336.4" y="751.3" font-size="7.6" text-anchor="end">0.10</text>
<line x1="339.4" y1="719.3" x2="343.2" y2="719.3" stroke="#555" stroke-width="0.7"/>
<text x="336.4" y="722" font-size="7.6" text-anchor="end">0.15</text>
<line x1="339.4" y1="690" x2="343.2" y2="690" stroke="#555" stroke-width="0.7"/>
<text x="336.4" y="692.7" font-size="7.6" text-anchor="end">0.20</text>
<text x="313.4" y="749" font-size="9.0" text-anchor="middle" transform="rotate(-90 313.4 749)">CHH methylation</text>
<text x="397.3" y="765.7" font-size="8.2" text-anchor="middle">NS</text>
<line x1="359.6" y1="768.4" x2="432.3" y2="768.4" stroke="#444" stroke-width="0.7"/>
<text x="381.2" y="785.3" font-size="8.2" text-anchor="middle">NS</text>
<line x1="360.3" y1="788" x2="396.8" y2="788" stroke="#444" stroke-width="0.7"/>
<text x="422.9" y="785.3" font-size="8.2" text-anchor="middle">NS</text>
<line x1="403" y1="788" x2="440.2" y2="788" stroke="#444" stroke-width="0.7"/>
<rect x="351.4" y="804.9" width="30" height="1.3" fill="#333"/>
<line x1="351.4" y1="804.3" x2="381.4" y2="804.3" stroke="#999" stroke-width="0.5"/>
<rect x="388.6" y="804.9" width="29.8" height="1.3" fill="#333"/>
<line x1="388.6" y1="804.3" x2="418.4" y2="804.3" stroke="#999" stroke-width="0.5"/>
<rect x="425.8" y="804.9" width="29.8" height="1.3" fill="#333"/>
<line x1="425.8" y1="804.3" x2="455.6" y2="804.3" stroke="#999" stroke-width="0.5"/>
<circle cx="366.3" cy="803.4" r="1.3" fill="#fff" stroke="#333" stroke-width="0.6"/>
<circle cx="366.3" cy="805.2" r="1.3" fill="#fff" stroke="#333" stroke-width="0.6"/>
<circle cx="403.5" cy="803.8" r="1.3" fill="#fff" stroke="#333" stroke-width="0.6"/>
<circle cx="440.7" cy="803.8" r="1.3" fill="#fff" stroke="#333" stroke-width="0.6"/>
<path d="M366.3,815.9 V812.7 H440.7 V815.9 M403.5,812.7 V815.9" fill="none" stroke="#888" stroke-width="0.8"/>
<text x="371.1" y="824.8" font-size="9.3" text-anchor="end" transform="rotate(-45 371.1 824.8)"><tspan>wt</tspan><tspan dy="-3.72" font-size="6.32">s</tspan><tspan dy="3.72">/wt</tspan><tspan dy="-3.72" font-size="6.32">r</tspan></text>
<text x="408.3" y="824.8" font-size="9.3" text-anchor="end" transform="rotate(-45 408.3 824.8)"><tspan font-style="italic">nrpd1</tspan><tspan dy="-3.72" font-size="6.32">s</tspan><tspan dy="3.72" font-style="italic">/</tspan><tspan font-style="italic">nrpd1</tspan><tspan dy="-3.72" font-size="6.32">r</tspan></text>
<text x="445.5" y="824.8" font-size="9.3" text-anchor="end" transform="rotate(-45 445.5 824.8)"><tspan font-style="italic">nrpd1</tspan><tspan dy="-3.72" font-size="6.32">s</tspan><tspan dy="3.72">/wt</tspan><tspan dy="-3.72" font-size="6.32">r</tspan></text>
<text x="472.2" y="670" font-size="12.5" font-weight="bold" fill="#000">h</text>
<rect x="495.2" y="691.9" width="25" height="8.36" fill="#7b95cf"/>
<rect x="520.2" y="691.9" width="25.1" height="8.36" fill="#d42e2a"/>
<rect x="545.3" y="691.9" width="25.5" height="8.36" fill="#a0b3df"/>
<text x="574.9" y="698.98" font-size="7.8" font-style="italic" textLength="70.95" lengthAdjust="spacingAndGlyphs">Carubv10011305m.g</text>
<rect x="495.2" y="700.26" width="25" height="8.36" fill="#7b95cf"/>
<rect x="520.2" y="700.26" width="25.1" height="8.36" fill="#d42e2a"/>
<rect x="545.3" y="700.26" width="25.5" height="8.36" fill="#a0b3df"/>
<text x="574.9" y="707.34" font-size="7.8" font-style="italic" textLength="70.95" lengthAdjust="spacingAndGlyphs">Carubv10011296m.g</text>
<rect x="495.2" y="708.62" width="25" height="8.36" fill="#8099d2"/>
<rect x="520.2" y="708.62" width="25.1" height="8.36" fill="#d42e2a"/>
<rect x="545.3" y="708.62" width="25.5" height="8.36" fill="#8ea6d8"/>
<text x="574.9" y="715.7" font-size="7.8" font-style="italic" textLength="72.3" lengthAdjust="spacingAndGlyphs">Carubv10008761m.g</text>
<rect x="495.2" y="716.98" width="25" height="8.36" fill="#88a0d5"/>
<rect x="520.2" y="716.98" width="25.1" height="8.36" fill="#d42e2a"/>
<rect x="545.3" y="716.98" width="25.5" height="8.36" fill="#8aa3d7"/>
<text x="574.9" y="724.06" font-size="7.8" font-style="italic" textLength="70.95" lengthAdjust="spacingAndGlyphs">Carubv10019170m.g</text>
<rect x="495.2" y="725.34" width="25" height="8.36" fill="#88a0d5"/>
<rect x="520.2" y="725.34" width="25.1" height="8.36" fill="#d42e2a"/>
<rect x="545.3" y="725.34" width="25.5" height="8.36" fill="#8aa3d7"/>
<text x="574.9" y="732.42" font-size="7.8" font-style="italic" textLength="69.6" lengthAdjust="spacingAndGlyphs">Carubv10011921m.g</text>
<rect x="495.2" y="733.7" width="25" height="8.36" fill="#88a0d5"/>
<rect x="520.2" y="733.7" width="25.1" height="8.36" fill="#d42e2a"/>
<rect x="545.3" y="733.7" width="25.5" height="8.36" fill="#8ca4d7"/>
<text x="574.9" y="740.78" font-size="7.8" font-style="italic" textLength="70.95" lengthAdjust="spacingAndGlyphs">Carubv10019051m.g</text>
<rect x="495.2" y="742.06" width="25" height="8.36" fill="#8aa2d6"/>
<rect x="520.2" y="742.06" width="25.1" height="8.36" fill="#d42e2a"/>
<rect x="545.3" y="742.06" width="25.5" height="8.36" fill="#8ca4d7"/>
<text x="574.9" y="749.14" font-size="7.8" font-style="italic" textLength="73.65" lengthAdjust="spacingAndGlyphs">Carubv10027589m.g</text>
<rect x="495.2" y="750.42" width="25" height="8.36" fill="#8aa2d6"/>
<rect x="520.2" y="750.42" width="25.1" height="8.36" fill="#d42e2a"/>
<rect x="545.3" y="750.42" width="25.5" height="8.36" fill="#8aa3d7"/>
<text x="574.9" y="757.5" font-size="7.8" font-style="italic" textLength="73.65" lengthAdjust="spacingAndGlyphs">Carubv10025529m.g</text>
<rect x="495.2" y="758.78" width="25" height="8.36" fill="#8aa2d6"/>
<rect x="520.2" y="758.78" width="25.1" height="8.36" fill="#d42e2a"/>
<rect x="545.3" y="758.78" width="25.5" height="8.36" fill="#8aa3d7"/>
<text x="574.9" y="765.86" font-size="7.8" font-style="italic" textLength="70.95" lengthAdjust="spacingAndGlyphs">Carubv10018881m.g</text>
<rect x="495.2" y="767.14" width="25" height="8.36" fill="#6e8bcb"/>
<rect x="520.2" y="767.14" width="25.1" height="8.36" fill="#d42e2a"/>
<rect x="545.3" y="767.14" width="25.5" height="8.36" fill="#aabbe2"/>
<text x="574.9" y="774.22" font-size="7.8" font-style="italic" textLength="68.25" lengthAdjust="spacingAndGlyphs">Carubv10011117m.g</text>
<rect x="495.2" y="775.5" width="25" height="8.36" fill="#6784c8"/>
<rect x="520.2" y="775.5" width="25.1" height="8.36" fill="#d42e2a"/>
<rect x="545.3" y="775.5" width="25.5" height="8.36" fill="#b5c5e6"/>
<text x="574.9" y="782.58" font-size="7.8" font-style="italic" textLength="72.3" lengthAdjust="spacingAndGlyphs">Carubv10005616m.g</text>
<rect x="495.2" y="783.86" width="25" height="8.36" fill="#6e8bcb"/>
<rect x="520.2" y="783.86" width="25.1" height="8.36" fill="#d42e2a"/>
<rect x="545.3" y="783.86" width="25.5" height="8.36" fill="#b0c0e4"/>
<text x="574.9" y="790.94" font-size="7.8" font-style="italic" textLength="73.65" lengthAdjust="spacingAndGlyphs">Carubv10020326m.g</text>
<rect x="495.2" y="792.22" width="25" height="8.36" fill="#6e8bcb"/>
<rect x="520.2" y="792.22" width="25.1" height="8.36" fill="#d42e2a"/>
<rect x="545.3" y="792.22" width="25.5" height="8.36" fill="#afc0e4"/>
<text x="574.9" y="799.3" font-size="7.8" font-style="italic" textLength="72.3" lengthAdjust="spacingAndGlyphs">Carubv10021354m.g</text>
<rect x="495.2" y="800.58" width="25" height="8.36" fill="#4f72bf"/>
<rect x="520.2" y="800.58" width="25.1" height="8.36" fill="#d63a36"/>
<rect x="545.3" y="800.58" width="25.5" height="8.36" fill="#d0daef"/>
<text x="574.9" y="807.66" font-size="7.8" font-style="italic" textLength="73.65" lengthAdjust="spacingAndGlyphs">Carubv10009644m.g</text>
<rect x="495.2" y="808.94" width="25" height="8.36" fill="#5a7bc3"/>
<rect x="520.2" y="808.94" width="25.1" height="8.36" fill="#d63a36"/>
<rect x="545.3" y="808.94" width="25.5" height="8.36" fill="#c9d4ec"/>
<text x="574.9" y="816.02" font-size="7.8" font-style="italic" textLength="72.3" lengthAdjust="spacingAndGlyphs">Carubv10015907m.g</text>
<rect x="495.2" y="817.3" width="25" height="8.36" fill="#5a7bc3"/>
<rect x="520.2" y="817.3" width="25.1" height="8.36" fill="#d63a36"/>
<rect x="545.3" y="817.3" width="25.5" height="8.36" fill="#c6d2eb"/>
<text x="574.9" y="824.38" font-size="7.8" font-style="italic" textLength="72.3" lengthAdjust="spacingAndGlyphs">Carubv10025148m.g</text>
<rect x="495.2" y="825.66" width="25" height="8.36" fill="#5578c2"/>
<rect x="520.2" y="825.66" width="25.1" height="8.36" fill="#d63a36"/>
<rect x="545.3" y="825.66" width="25.5" height="8.36" fill="#c6d2eb"/>
<text x="574.9" y="832.74" font-size="7.8" font-style="italic" textLength="72.3" lengthAdjust="spacingAndGlyphs">Carubv10021959m.g</text>
<rect x="495.2" y="834.02" width="25" height="8.36" fill="#f6d5d5"/>
<rect x="520.2" y="834.02" width="25.1" height="8.36" fill="#e06a66"/>
<rect x="545.3" y="834.02" width="25.5" height="8.36" fill="#2e57b0"/>
<text x="574.9" y="841.1" font-size="7.8" font-style="italic" textLength="72.3" lengthAdjust="spacingAndGlyphs">Carubv10021687m.g</text>
<rect x="495.2" y="842.38" width="25" height="8.36" fill="#fbe8e8"/>
<rect x="520.2" y="842.38" width="25.1" height="8.36" fill="#de5c58"/>
<rect x="545.3" y="842.38" width="25.5" height="8.36" fill="#2e57b0"/>
<text x="574.9" y="849.46" font-size="7.8" font-style="italic" textLength="72.3" lengthAdjust="spacingAndGlyphs">Carubv10012255m.g</text>
<rect x="495.2" y="850.74" width="25" height="8.36" fill="#ccd7ee"/>
<rect x="520.2" y="850.74" width="25.1" height="8.36" fill="#d42e2a"/>
<rect x="545.3" y="850.74" width="25.5" height="8.36" fill="#5779c2"/>
<text x="574.9" y="857.82" font-size="7.8" font-style="italic" textLength="72.3" lengthAdjust="spacingAndGlyphs">Carubv10024921m.g</text>
<rect x="495.2" y="859.1" width="25" height="8.36" fill="#b5c5e6"/>
<rect x="520.2" y="859.1" width="25.1" height="8.36" fill="#d42e2a"/>
<rect x="545.3" y="859.1" width="25.5" height="8.36" fill="#6685c8"/>
<text x="574.9" y="866.18" font-size="7.8" font-style="italic" textLength="73.65" lengthAdjust="spacingAndGlyphs">Carubv10022472m.g</text>
<rect x="495.2" y="867.46" width="25" height="8.36" fill="#a9bbe1"/>
<rect x="520.2" y="867.46" width="25.1" height="8.36" fill="#d42e2a"/>
<rect x="545.3" y="867.46" width="25.5" height="8.36" fill="#6e8bcb"/>
<text x="574.9" y="874.54" font-size="7.8" font-style="italic" textLength="70.95" lengthAdjust="spacingAndGlyphs">Carubv10011445m.g</text>
<rect x="495.2" y="875.82" width="25" height="8.36" fill="#a9bbe1"/>
<rect x="520.2" y="875.82" width="25.1" height="8.36" fill="#d42e2a"/>
<rect x="545.3" y="875.82" width="25.5" height="8.36" fill="#7892cf"/>
<text x="574.9" y="882.9" font-size="7.8" font-style="italic" textLength="72.3" lengthAdjust="spacingAndGlyphs">Carubv10021747m.g</text>
<line x1="520.2" y1="691.9" x2="520.2" y2="884.18" stroke="#fff" stroke-width="0.7"/>
<line x1="545.3" y1="691.9" x2="545.3" y2="884.18" stroke="#fff" stroke-width="0.7"/>
<line x1="495.2" y1="700.26" x2="570.8" y2="700.26" stroke="#fff" stroke-width="0.7"/>
<line x1="495.2" y1="708.62" x2="570.8" y2="708.62" stroke="#fff" stroke-width="0.7"/>
<line x1="495.2" y1="716.98" x2="570.8" y2="716.98" stroke="#fff" stroke-width="0.7"/>
<line x1="495.2" y1="725.34" x2="570.8" y2="725.34" stroke="#fff" stroke-width="0.7"/>
<line x1="495.2" y1="733.7" x2="570.8" y2="733.7" stroke="#fff" stroke-width="0.7"/>
<line x1="495.2" y1="742.06" x2="570.8" y2="742.06" stroke="#fff" stroke-width="0.7"/>
<line x1="495.2" y1="750.42" x2="570.8" y2="750.42" stroke="#fff" stroke-width="0.7"/>
<line x1="495.2" y1="758.78" x2="570.8" y2="758.78" stroke="#fff" stroke-width="0.7"/>
<line x1="495.2" y1="767.14" x2="570.8" y2="767.14" stroke="#fff" stroke-width="0.7"/>
<line x1="495.2" y1="775.5" x2="570.8" y2="775.5" stroke="#fff" stroke-width="0.7"/>
<line x1="495.2" y1="783.86" x2="570.8" y2="783.86" stroke="#fff" stroke-width="0.7"/>
<line x1="495.2" y1="792.22" x2="570.8" y2="792.22" stroke="#fff" stroke-width="0.7"/>
<line x1="495.2" y1="800.58" x2="570.8" y2="800.58" stroke="#fff" stroke-width="0.7"/>
<line x1="495.2" y1="808.94" x2="570.8" y2="808.94" stroke="#fff" stroke-width="0.7"/>
<line x1="495.2" y1="817.3" x2="570.8" y2="817.3" stroke="#fff" stroke-width="0.7"/>
<line x1="495.2" y1="825.66" x2="570.8" y2="825.66" stroke="#fff" stroke-width="0.7"/>
<line x1="495.2" y1="834.02" x2="570.8" y2="834.02" stroke="#fff" stroke-width="0.7"/>
<line x1="495.2" y1="842.38" x2="570.8" y2="842.38" stroke="#fff" stroke-width="0.7"/>
<line x1="495.2" y1="850.74" x2="570.8" y2="850.74" stroke="#fff" stroke-width="0.7"/>
<line x1="495.2" y1="859.1" x2="570.8" y2="859.1" stroke="#fff" stroke-width="0.7"/>
<line x1="495.2" y1="867.46" x2="570.8" y2="867.46" stroke="#fff" stroke-width="0.7"/>
<line x1="495.2" y1="875.82" x2="570.8" y2="875.82" stroke="#fff" stroke-width="0.7"/>
<text x="509" y="687.5" font-size="9.4" transform="rotate(-42 509 687.5)"><tspan>wt</tspan><tspan dy="-3.76" font-size="6.39">s</tspan><tspan dy="3.76">/wt</tspan><tspan dy="-3.76" font-size="6.39">r</tspan></text>
<text x="536" y="688" font-size="7.8" transform="rotate(-42 536 688)"><tspan font-style="italic">nrpd1</tspan><tspan dy="-3.12" font-size="5.3">s</tspan><tspan dy="3.12" font-style="italic">/</tspan><tspan font-style="italic">nrpd1</tspan><tspan dy="-3.12" font-size="5.3">r</tspan></text>
<text x="560.5" y="687.5" font-size="9.4" transform="rotate(-42 560.5 687.5)"><tspan font-style="italic">nrpd1</tspan><tspan dy="-3.76" font-size="6.39">s</tspan><tspan dy="3.76">/wt</tspan><tspan dy="-3.76" font-size="6.39">r</tspan></text>
<path d="M495.2,754.6H491.6V762.96H495.2M495.2,746.24H488.6V758.78H491.6M495.2,737.88H485.1V752.51H488.6M495.2,721.16H485.1V729.52H495.2M485.1,725.34H481.7V745.19H485.1M495.2,712.8H478.5V735.27H481.7M495.2,696.08H478.5V704.44H495.2M478.5,700.26H475.4V724.03H478.5M495.2,788.04H485.3V796.4H495.2M495.2,779.68H482.5V792.22H485.3M495.2,771.32H478.7V785.95H482.5M495.2,821.48H485.3V829.84H495.2M495.2,813.12H482.5V825.66H485.3M495.2,804.76H478.7V819.39H482.5M478.7,778.63H475.4V812.08H478.7M475.4,712.15H472.3V795.36H475.4M495.2,838.2H475.4V846.56H495.2M495.2,871.64H482.2V880H495.2M495.2,863.28H478.7V875.82H482.2M495.2,854.92H475.4V869.55H478.7M475.4,842.38H472.3V862.23H475.4M472.3,753.75H469.1V852.31H472.3" fill="none" stroke="#999" stroke-width="0.8"/>
<defs><linearGradient id="gh" x1="0" x2="0" y1="0" y2="1"><stop offset="0" stop-color="#cc1111"/><stop offset="0.5" stop-color="#ffffff"/><stop offset="1" stop-color="#1f3f9e"/></linearGradient></defs>
<rect x="655.2" y="700.9" width="9.3" height="71.2" fill="url(#gh)"/>
<line x1="664.5" y1="701.4" x2="667.6" y2="701.4" stroke="#555" stroke-width="0.6"/>
<text x="670.2" y="704.2" font-size="8.0">1.2</text>
<line x1="664.5" y1="740.2" x2="667.6" y2="740.2" stroke="#555" stroke-width="0.6"/>
<text x="670.2" y="743" font-size="8.0">0</text>
<line x1="664.5" y1="772.1" x2="667.6" y2="772.1" stroke="#555" stroke-width="0.6"/>
<text x="670.2" y="774.9" font-size="8.0" textLength="12.6" lengthAdjust="spacingAndGlyphs">–1.2</text>
<text x="654.6" y="787.1" font-size="9.3">logTPM</text>
</svg>
</body></html>
